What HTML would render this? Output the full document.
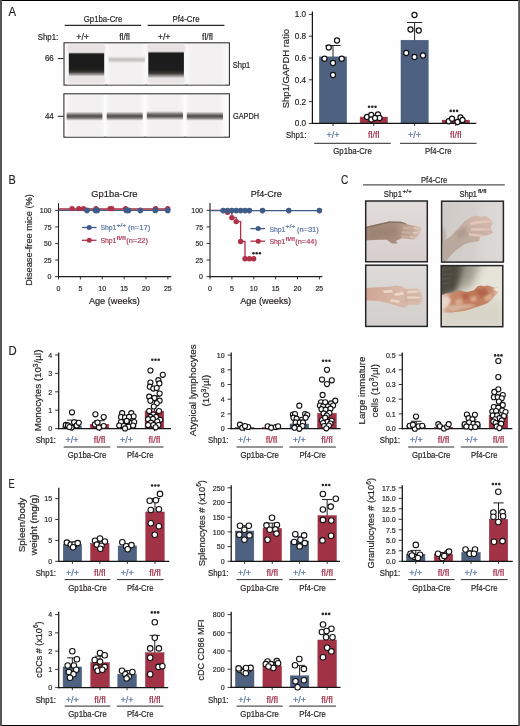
<!DOCTYPE html><html><head><meta charset="utf-8"><style>html,body{margin:0;padding:0;background:#fff;overflow:hidden;}svg{display:block;will-change:transform;}text{font-family:"Liberation Sans",sans-serif;stroke-width:0.18px;}</style></head><body>
<svg width="520" height="726" viewBox="0 0 520 726">
<rect x="0" y="0" width="520" height="726" fill="#fefefe"/>
<defs>
<linearGradient id="bandA" x1="0" y1="0" x2="0" y2="1">
 <stop offset="0" stop-color="#a8a4a4"/><stop offset="0.07" stop-color="#1c1c1c"/><stop offset="0.70" stop-color="#1c1c1c"/><stop offset="0.82" stop-color="#3a3834"/><stop offset="1" stop-color="#dcd8d6"/>
</linearGradient>
<linearGradient id="faint" x1="0" y1="0" x2="0" y2="1">
 <stop offset="0" stop-color="#eeecec"/><stop offset="0.45" stop-color="#c4c0c0"/><stop offset="0.6" stop-color="#c8c4c4"/><stop offset="1" stop-color="#eeecec"/>
</linearGradient>
<linearGradient id="gap" x1="0" y1="0" x2="0" y2="1">
 <stop offset="0" stop-color="#f2f0f0"/><stop offset="0.22" stop-color="#a09e9c"/><stop offset="0.42" stop-color="#5a5856"/><stop offset="0.6" stop-color="#5c5a58"/><stop offset="0.8" stop-color="#a4a2a0"/><stop offset="1" stop-color="#f2f0f0"/>
</linearGradient>
<linearGradient id="lane" x1="0" y1="0" x2="1" y2="0">
 <stop offset="0" stop-color="#f8f7f7"/><stop offset="0.12" stop-color="#f2f0f0"/><stop offset="0.88" stop-color="#f2f0f0"/><stop offset="1" stop-color="#f8f7f7"/>
</linearGradient>
<linearGradient id="photoBg1" x1="0" y1="0" x2="0" y2="1">
 <stop offset="0" stop-color="#e2dcdb"/><stop offset="1" stop-color="#d6cfcd"/>
</linearGradient>
<linearGradient id="photoBg2" x1="0" y1="0" x2="1" y2="0">
 <stop offset="0" stop-color="#cfcac6"/><stop offset="1" stop-color="#dad6d3"/>
</linearGradient>
<linearGradient id="photoBg3" x1="0" y1="0" x2="0" y2="1">
 <stop offset="0" stop-color="#dddad8"/><stop offset="1" stop-color="#d2cfcd"/>
</linearGradient>
<radialGradient id="photoBg4" cx="0.15" cy="0.1" r="0.8">
 <stop offset="0" stop-color="#5e5a50"/><stop offset="0.45" stop-color="#a8a496"/><stop offset="0.75" stop-color="#e2dfd4"/><stop offset="1" stop-color="#eeebe2"/>
</radialGradient>
</defs>
<text x="8.40" y="16.40" font-size="12.6" text-anchor="start" fill="#231f20" stroke="#231f20" textLength="7.56" lengthAdjust="spacingAndGlyphs" style="stroke-width:0.16px">A</text>
<text x="103.00" y="22.40" font-size="8.4" text-anchor="middle" fill="#231f20" stroke="#231f20" textLength="38.50" lengthAdjust="spacingAndGlyphs" >Gp1ba-Cre</text>
<text x="186.00" y="22.40" font-size="8.4" text-anchor="middle" fill="#231f20" stroke="#231f20" textLength="27.10" lengthAdjust="spacingAndGlyphs" >Pf4-Cre</text>
<line x1="64.70" y1="25.40" x2="141.10" y2="25.40" stroke="#2a2a2a" stroke-width="1.1" />
<line x1="147.70" y1="25.40" x2="224.40" y2="25.40" stroke="#2a2a2a" stroke-width="1.1" />
<text x="58.20" y="40.00" font-size="8.3" text-anchor="end" fill="#231f20" stroke="#231f20" textLength="20.50" lengthAdjust="spacingAndGlyphs" >Shp1:</text>
<text x="82.60" y="40.00" font-size="8.3" text-anchor="middle" fill="#231f20" stroke="#231f20" textLength="12.70" lengthAdjust="spacingAndGlyphs" >+/+</text>
<text x="124.60" y="40.00" font-size="8.3" text-anchor="middle" fill="#231f20" stroke="#231f20" textLength="10.80" lengthAdjust="spacingAndGlyphs" >fl/fl</text>
<text x="164.10" y="40.00" font-size="8.3" text-anchor="middle" fill="#231f20" stroke="#231f20" textLength="12.70" lengthAdjust="spacingAndGlyphs" >+/+</text>
<text x="207.50" y="40.00" font-size="8.3" text-anchor="middle" fill="#231f20" stroke="#231f20" textLength="10.80" lengthAdjust="spacingAndGlyphs" >fl/fl</text>
<filter id="bb" x="-10%" y="-30%" width="120%" height="160%"><feGaussianBlur stdDeviation="0.7"/></filter>
<filter id="bb2" x="-10%" y="-30%" width="120%" height="160%"><feGaussianBlur stdDeviation="1.1"/></filter>
<rect x="64" y="42.8" width="165.4" height="42.3" fill="#f9f8f8" stroke="#2a2a2a" stroke-width="1.05"/>
<rect x="67.4" y="44" width="37.6" height="40.4" fill="url(#lane)"/>
<rect x="107.3" y="44" width="37.6" height="40.4" fill="url(#lane)"/>
<rect x="147.3" y="44" width="37.6" height="40.4" fill="url(#lane)"/>
<rect x="187.6" y="44" width="37.6" height="40.4" fill="url(#lane)"/>
<rect x="67.6" y="44.5" width="37.5" height="8" fill="#e6e2e2" filter="url(#bb2)"/>
<rect x="147.4" y="44.5" width="37.5" height="8" fill="#e6e2e2" filter="url(#bb2)"/>
<rect x="67.6" y="76" width="37.5" height="7" fill="#e8e4e4" filter="url(#bb2)"/>
<rect x="147.4" y="77" width="37.5" height="6" fill="#e8e4e4" filter="url(#bb2)"/>
<rect x="68.8" y="52.6" width="35.4" height="23.6" fill="url(#bandA)" filter="url(#bb)"/>
<rect x="148.3" y="51.7" width="35.6" height="26.2" fill="url(#bandA)" filter="url(#bb)"/>
<rect x="108.6" y="56.4" width="36.2" height="6.6" fill="url(#faint)" filter="url(#bb)"/>
<text x="53.80" y="61.00" font-size="8.4" text-anchor="end" fill="#231f20" stroke="#231f20" textLength="8.90" lengthAdjust="spacingAndGlyphs" >66</text>
<line x1="57.80" y1="58.60" x2="63.50" y2="58.60" stroke="#231f20" stroke-width="1.0" />
<text x="232.70" y="67.70" font-size="8.4" text-anchor="start" fill="#231f20" stroke="#231f20" textLength="17.60" lengthAdjust="spacingAndGlyphs" >Shp1</text>
<rect x="63.9" y="93.8" width="165.5" height="43.4" fill="#fbfbfb" stroke="#2a2a2a" stroke-width="1.05"/>
<rect x="66.8" y="95" width="37" height="41.4" fill="url(#lane)"/>
<rect x="106.5" y="95" width="37" height="41.4" fill="url(#lane)"/>
<rect x="146.6" y="95" width="37" height="41.4" fill="url(#lane)"/>
<rect x="186.6" y="95" width="37" height="41.4" fill="url(#lane)"/>
<rect x="66.6" y="111.6" width="35.8" height="9.2" fill="url(#gap)" rx="1.5" filter="url(#bb)"/>
<rect x="106.7" y="111.6" width="36" height="9.2" fill="url(#gap)" rx="1.5" filter="url(#bb)"/>
<rect x="146.8" y="111.0" width="36.2" height="9.2" fill="url(#gap)" rx="1.5" filter="url(#bb)"/>
<rect x="186.8" y="111.6" width="36.2" height="9.2" fill="url(#gap)" rx="1.5" filter="url(#bb)"/>
<text x="53.80" y="119.00" font-size="8.4" text-anchor="end" fill="#231f20" stroke="#231f20" textLength="8.90" lengthAdjust="spacingAndGlyphs" >44</text>
<line x1="57.80" y1="116.30" x2="63.50" y2="116.30" stroke="#231f20" stroke-width="1.0" />
<text x="232.90" y="118.80" font-size="8.4" text-anchor="start" fill="#231f20" stroke="#231f20" textLength="26.30" lengthAdjust="spacingAndGlyphs" >GAPDH</text>
<line x1="312.40" y1="11.50" x2="312.40" y2="124.00" stroke="#141414" stroke-width="1.25" />
<line x1="308.80" y1="123.40" x2="312.40" y2="123.40" stroke="#231f20" stroke-width="0.9" />
<text x="306.10" y="126.31" font-size="8.2" text-anchor="end" fill="#231f20" stroke="#231f20" textLength="11.40" lengthAdjust="spacingAndGlyphs" >0.0</text>
<line x1="308.80" y1="101.60" x2="312.40" y2="101.60" stroke="#231f20" stroke-width="0.9" />
<text x="306.10" y="104.51" font-size="8.2" text-anchor="end" fill="#231f20" stroke="#231f20" textLength="11.40" lengthAdjust="spacingAndGlyphs" >0.2</text>
<line x1="308.80" y1="79.80" x2="312.40" y2="79.80" stroke="#231f20" stroke-width="0.9" />
<text x="306.10" y="82.71" font-size="8.2" text-anchor="end" fill="#231f20" stroke="#231f20" textLength="11.40" lengthAdjust="spacingAndGlyphs" >0.4</text>
<line x1="308.80" y1="58.00" x2="312.40" y2="58.00" stroke="#231f20" stroke-width="0.9" />
<text x="306.10" y="60.91" font-size="8.2" text-anchor="end" fill="#231f20" stroke="#231f20" textLength="11.40" lengthAdjust="spacingAndGlyphs" >0.6</text>
<line x1="308.80" y1="36.20" x2="312.40" y2="36.20" stroke="#231f20" stroke-width="0.9" />
<text x="306.10" y="39.11" font-size="8.2" text-anchor="end" fill="#231f20" stroke="#231f20" textLength="11.40" lengthAdjust="spacingAndGlyphs" >0.8</text>
<line x1="308.80" y1="14.40" x2="312.40" y2="14.40" stroke="#231f20" stroke-width="0.9" />
<text x="306.10" y="17.31" font-size="8.2" text-anchor="end" fill="#231f20" stroke="#231f20" textLength="11.40" lengthAdjust="spacingAndGlyphs" >1.0</text>
<rect x="319.40" y="56.91" width="27.2" height="66.49" fill="#4e6180" stroke="#3d5274" stroke-width="0.5"/>
<rect x="360.15" y="117.08" width="27.2" height="6.32" fill="#a23346" stroke="#952236" stroke-width="0.5"/>
<rect x="401.00" y="40.23" width="27.2" height="83.17" fill="#4e6180" stroke="#3d5274" stroke-width="0.5"/>
<rect x="442.15" y="120.13" width="27.2" height="3.27" fill="#a23346" stroke="#952236" stroke-width="0.5"/>
<line x1="333.00" y1="56.91" x2="333.00" y2="45.47" stroke="#231f20" stroke-width="1.0" />
<line x1="325.38" y1="45.47" x2="340.62" y2="45.47" stroke="#231f20" stroke-width="1.0" />
<line x1="414.60" y1="40.23" x2="414.60" y2="22.47" stroke="#231f20" stroke-width="1.0" />
<line x1="406.98" y1="22.47" x2="422.22" y2="22.47" stroke="#231f20" stroke-width="1.0" />
<line x1="311.80" y1="123.40" x2="476.30" y2="123.40" stroke="#141414" stroke-width="1.2" />
<line x1="333.00" y1="123.40" x2="333.00" y2="126.00" stroke="#231f20" stroke-width="0.9" />
<line x1="373.75" y1="123.40" x2="373.75" y2="126.00" stroke="#231f20" stroke-width="0.9" />
<line x1="414.60" y1="123.40" x2="414.60" y2="126.00" stroke="#231f20" stroke-width="0.9" />
<line x1="455.75" y1="123.40" x2="455.75" y2="126.00" stroke="#231f20" stroke-width="0.9" />
<circle cx="337.00" cy="40.50" r="2.55" fill="#fff" stroke="#111" stroke-width="1.2"/>
<circle cx="328.75" cy="47.50" r="2.55" fill="#fff" stroke="#111" stroke-width="1.2"/>
<circle cx="324.50" cy="58.75" r="2.55" fill="#fff" stroke="#111" stroke-width="1.2"/>
<circle cx="333.00" cy="63.00" r="2.55" fill="#fff" stroke="#111" stroke-width="1.2"/>
<circle cx="341.75" cy="58.75" r="2.55" fill="#fff" stroke="#111" stroke-width="1.2"/>
<circle cx="333.00" cy="75.00" r="2.55" fill="#fff" stroke="#111" stroke-width="1.2"/>
<circle cx="367.00" cy="117.00" r="2.55" fill="#fff" stroke="#111" stroke-width="1.2"/>
<circle cx="371.25" cy="115.00" r="2.55" fill="#fff" stroke="#111" stroke-width="1.2"/>
<circle cx="378.00" cy="114.50" r="2.55" fill="#fff" stroke="#111" stroke-width="1.2"/>
<circle cx="379.50" cy="118.00" r="2.55" fill="#fff" stroke="#111" stroke-width="1.2"/>
<circle cx="371.25" cy="119.50" r="2.55" fill="#fff" stroke="#111" stroke-width="1.2"/>
<circle cx="375.00" cy="118.00" r="2.55" fill="#fff" stroke="#111" stroke-width="1.2"/>
<circle cx="414.50" cy="15.00" r="2.55" fill="#fff" stroke="#111" stroke-width="1.2"/>
<circle cx="410.50" cy="29.50" r="2.55" fill="#fff" stroke="#111" stroke-width="1.2"/>
<circle cx="418.75" cy="30.50" r="2.55" fill="#fff" stroke="#111" stroke-width="1.2"/>
<circle cx="406.25" cy="53.00" r="2.55" fill="#fff" stroke="#111" stroke-width="1.2"/>
<circle cx="414.50" cy="57.00" r="2.55" fill="#fff" stroke="#111" stroke-width="1.2"/>
<circle cx="423.00" cy="55.50" r="2.55" fill="#fff" stroke="#111" stroke-width="1.2"/>
<circle cx="448.75" cy="121.25" r="2.55" fill="#fff" stroke="#111" stroke-width="1.2"/>
<circle cx="452.00" cy="118.75" r="2.55" fill="#fff" stroke="#111" stroke-width="1.2"/>
<circle cx="457.50" cy="122.00" r="2.55" fill="#fff" stroke="#111" stroke-width="1.2"/>
<circle cx="460.50" cy="117.50" r="2.55" fill="#fff" stroke="#111" stroke-width="1.2"/>
<circle cx="462.50" cy="120.00" r="2.55" fill="#fff" stroke="#111" stroke-width="1.2"/>
<text transform="translate(288.60,68.60) rotate(-90)" x="0" y="0" font-size="9.2" text-anchor="middle" fill="#231f20" stroke="#231f20" textLength="79.20" lengthAdjust="spacingAndGlyphs">Shp1/GAPDH ratio</text>
<text x="306.30" y="137.90" font-size="8.2" text-anchor="end" fill="#231f20" stroke="#231f20" textLength="20.30" lengthAdjust="spacingAndGlyphs" >Shp1:</text>
<text x="333.00" y="137.90" font-size="8.2" text-anchor="middle" fill="#5572a0" stroke="#5572a0" textLength="13.00" lengthAdjust="spacingAndGlyphs" >+/+</text>
<text x="373.75" y="137.90" font-size="8.2" text-anchor="middle" fill="#a43048" stroke="#a43048" textLength="11.60" lengthAdjust="spacingAndGlyphs" >fl/fl</text>
<text x="414.60" y="137.90" font-size="8.2" text-anchor="middle" fill="#5572a0" stroke="#5572a0" textLength="13.00" lengthAdjust="spacingAndGlyphs" >+/+</text>
<text x="455.75" y="137.90" font-size="8.2" text-anchor="middle" fill="#a43048" stroke="#a43048" textLength="11.60" lengthAdjust="spacingAndGlyphs" >fl/fl</text>
<line x1="314.20" y1="143.30" x2="390.80" y2="143.30" stroke="#2a2a2a" stroke-width="1.0" />
<line x1="400.00" y1="143.30" x2="476.50" y2="143.30" stroke="#2a2a2a" stroke-width="1.0" />
<text x="352.50" y="154.10" font-size="8.2" text-anchor="middle" fill="#231f20" stroke="#231f20" textLength="38.50" lengthAdjust="spacingAndGlyphs" >Gp1ba-Cre</text>
<text x="438.25" y="154.10" font-size="8.2" text-anchor="middle" fill="#231f20" stroke="#231f20" textLength="26.50" lengthAdjust="spacingAndGlyphs" >Pf4-Cre</text>
<circle cx="369.10" cy="106.80" r="1.3" fill="#2a2a2a"/>
<circle cx="372.30" cy="106.80" r="1.3" fill="#2a2a2a"/>
<circle cx="375.50" cy="106.80" r="1.3" fill="#2a2a2a"/>
<circle cx="450.70" cy="110.90" r="1.3" fill="#2a2a2a"/>
<circle cx="453.90" cy="110.90" r="1.3" fill="#2a2a2a"/>
<circle cx="457.10" cy="110.90" r="1.3" fill="#2a2a2a"/>
<text x="8.60" y="183.80" font-size="12.6" text-anchor="start" fill="#231f20" stroke="#231f20" textLength="7.23" lengthAdjust="spacingAndGlyphs" style="stroke-width:0.16px">B</text>
<text transform="translate(32.00,240.00) rotate(-90)" x="0" y="0" font-size="9.2" text-anchor="middle" fill="#231f20" stroke="#231f20" textLength="91.70" lengthAdjust="spacingAndGlyphs">Disease-free mice (%)</text>
<line x1="58.50" y1="203.10" x2="58.50" y2="277.15" stroke="#231f20" stroke-width="1.1" />
<line x1="55.10" y1="276.60" x2="58.50" y2="276.60" stroke="#231f20" stroke-width="0.9" />
<text x="51.50" y="279.40" font-size="7.4" text-anchor="end" fill="#231f20" stroke="#231f20" textLength="3.90" lengthAdjust="spacingAndGlyphs" >0</text>
<line x1="55.10" y1="260.04" x2="58.50" y2="260.04" stroke="#231f20" stroke-width="0.9" />
<text x="51.50" y="262.84" font-size="7.4" text-anchor="end" fill="#231f20" stroke="#231f20" textLength="7.60" lengthAdjust="spacingAndGlyphs" >25</text>
<line x1="55.10" y1="243.48" x2="58.50" y2="243.48" stroke="#231f20" stroke-width="0.9" />
<text x="51.50" y="246.28" font-size="7.4" text-anchor="end" fill="#231f20" stroke="#231f20" textLength="7.60" lengthAdjust="spacingAndGlyphs" >50</text>
<line x1="55.10" y1="226.92" x2="58.50" y2="226.92" stroke="#231f20" stroke-width="0.9" />
<text x="51.50" y="229.72" font-size="7.4" text-anchor="end" fill="#231f20" stroke="#231f20" textLength="7.60" lengthAdjust="spacingAndGlyphs" >75</text>
<line x1="55.10" y1="210.36" x2="58.50" y2="210.36" stroke="#231f20" stroke-width="0.9" />
<text x="51.50" y="213.16" font-size="7.4" text-anchor="end" fill="#231f20" stroke="#231f20" textLength="11.70" lengthAdjust="spacingAndGlyphs" >100</text>
<line x1="57.95" y1="276.60" x2="171.30" y2="276.60" stroke="#231f20" stroke-width="1.1" />
<line x1="58.50" y1="276.60" x2="58.50" y2="279.40" stroke="#231f20" stroke-width="0.9" />
<text x="58.50" y="290.60" font-size="7.4" text-anchor="middle" fill="#231f20" stroke="#231f20" textLength="3.90" lengthAdjust="spacingAndGlyphs" >0</text>
<line x1="80.38" y1="276.60" x2="80.38" y2="279.40" stroke="#231f20" stroke-width="0.9" />
<text x="80.38" y="290.60" font-size="7.4" text-anchor="middle" fill="#231f20" stroke="#231f20" textLength="3.90" lengthAdjust="spacingAndGlyphs" >5</text>
<line x1="102.25" y1="276.60" x2="102.25" y2="279.40" stroke="#231f20" stroke-width="0.9" />
<text x="102.25" y="290.60" font-size="7.4" text-anchor="middle" fill="#231f20" stroke="#231f20" textLength="7.80" lengthAdjust="spacingAndGlyphs" >10</text>
<line x1="124.12" y1="276.60" x2="124.12" y2="279.40" stroke="#231f20" stroke-width="0.9" />
<text x="124.12" y="290.60" font-size="7.4" text-anchor="middle" fill="#231f20" stroke="#231f20" textLength="7.80" lengthAdjust="spacingAndGlyphs" >15</text>
<line x1="146.00" y1="276.60" x2="146.00" y2="279.40" stroke="#231f20" stroke-width="0.9" />
<text x="146.00" y="290.60" font-size="7.4" text-anchor="middle" fill="#231f20" stroke="#231f20" textLength="7.80" lengthAdjust="spacingAndGlyphs" >20</text>
<line x1="167.88" y1="276.60" x2="167.88" y2="279.40" stroke="#231f20" stroke-width="0.9" />
<text x="167.88" y="290.60" font-size="7.4" text-anchor="middle" fill="#231f20" stroke="#231f20" textLength="7.80" lengthAdjust="spacingAndGlyphs" >25</text>
<text x="114.40" y="196.90" font-size="9.2" text-anchor="middle" fill="#231f20" stroke="#231f20" textLength="46.20" lengthAdjust="spacingAndGlyphs" >Gp1ba-Cre</text>
<text x="114.40" y="304.40" font-size="9.2" text-anchor="middle" fill="#231f20" stroke="#231f20" textLength="51.00" lengthAdjust="spacingAndGlyphs" >Age (weeks)</text>
<line x1="58.50" y1="210.40" x2="167.88" y2="210.40" stroke="#3f5b87" stroke-width="1.3" />
<line x1="58.50" y1="208.90" x2="167.88" y2="208.90" stroke="#a82a42" stroke-width="1.5" />
<circle cx="72.10" cy="208.60" r="2.65" fill="#ae3148" stroke="none" stroke-width="0"/>
<circle cx="78.75" cy="208.60" r="2.65" fill="#ae3148" stroke="none" stroke-width="0"/>
<circle cx="83.50" cy="208.60" r="2.65" fill="#ae3148" stroke="none" stroke-width="0"/>
<circle cx="96.00" cy="208.60" r="2.65" fill="#ae3148" stroke="none" stroke-width="0"/>
<circle cx="110.00" cy="208.60" r="2.65" fill="#ae3148" stroke="none" stroke-width="0"/>
<circle cx="111.80" cy="208.60" r="2.65" fill="#ae3148" stroke="none" stroke-width="0"/>
<circle cx="125.60" cy="208.60" r="2.65" fill="#ae3148" stroke="none" stroke-width="0"/>
<circle cx="155.60" cy="208.60" r="2.65" fill="#ae3148" stroke="none" stroke-width="0"/>
<circle cx="167.75" cy="208.60" r="2.65" fill="#ae3148" stroke="none" stroke-width="0"/>
<circle cx="87.00" cy="210.40" r="2.8" fill="#3f5b87" stroke="none" stroke-width="0"/>
<circle cx="95.40" cy="210.40" r="2.8" fill="#3f5b87" stroke="none" stroke-width="0"/>
<circle cx="97.20" cy="210.40" r="2.8" fill="#3f5b87" stroke="none" stroke-width="0"/>
<circle cx="126.30" cy="210.40" r="2.8" fill="#3f5b87" stroke="none" stroke-width="0"/>
<circle cx="128.50" cy="210.40" r="2.8" fill="#3f5b87" stroke="none" stroke-width="0"/>
<circle cx="140.40" cy="210.40" r="2.8" fill="#3f5b87" stroke="none" stroke-width="0"/>
<circle cx="155.30" cy="210.40" r="2.8" fill="#3f5b87" stroke="none" stroke-width="0"/>
<circle cx="167.75" cy="210.40" r="2.8" fill="#3f5b87" stroke="none" stroke-width="0"/>
<line x1="81.90" y1="227.50" x2="96.50" y2="227.50" stroke="#3f5b87" stroke-width="1.3" />
<circle cx="89.20" cy="227.50" r="2.5" fill="#3f5b87" stroke="none" stroke-width="0"/>
<line x1="81.90" y1="240.30" x2="96.50" y2="240.30" stroke="#ae3148" stroke-width="1.3" />
<circle cx="89.20" cy="240.30" r="2.5" fill="#ae3148" stroke="none" stroke-width="0"/>
<text x="100.40" y="230.40" font-size="7.9" text-anchor="start" fill="#5570a0" stroke="#5570a0" textLength="16.00" lengthAdjust="spacingAndGlyphs" >Shp1</text>
<text x="116.40" y="227.30" font-size="5.0" text-anchor="start" fill="#5570a0" stroke="#5570a0" textLength="10.00" lengthAdjust="spacingAndGlyphs" style="stroke-width:0.16px">+/+</text>
<text x="128.00" y="230.40" font-size="7.9" text-anchor="start" fill="#5570a0" stroke="#5570a0" textLength="22.40" lengthAdjust="spacingAndGlyphs" >(n=17)</text>
<text x="100.40" y="242.80" font-size="7.9" text-anchor="start" fill="#ac3850" stroke="#ac3850" textLength="16.00" lengthAdjust="spacingAndGlyphs" >Shp1</text>
<text x="116.40" y="239.70" font-size="5.0" text-anchor="start" fill="#ac3850" stroke="#ac3850" textLength="9.40" lengthAdjust="spacingAndGlyphs" style="stroke-width:0.16px">fl/fl</text>
<text x="126.20" y="242.80" font-size="7.9" text-anchor="start" fill="#ac3850" stroke="#ac3850" textLength="21.80" lengthAdjust="spacingAndGlyphs" >(n=22)</text>
<line x1="210.00" y1="203.10" x2="210.00" y2="277.15" stroke="#231f20" stroke-width="1.1" />
<line x1="206.60" y1="276.60" x2="210.00" y2="276.60" stroke="#231f20" stroke-width="0.9" />
<text x="203.00" y="279.40" font-size="7.4" text-anchor="end" fill="#231f20" stroke="#231f20" textLength="3.90" lengthAdjust="spacingAndGlyphs" >0</text>
<line x1="206.60" y1="260.04" x2="210.00" y2="260.04" stroke="#231f20" stroke-width="0.9" />
<text x="203.00" y="262.84" font-size="7.4" text-anchor="end" fill="#231f20" stroke="#231f20" textLength="7.60" lengthAdjust="spacingAndGlyphs" >25</text>
<line x1="206.60" y1="243.48" x2="210.00" y2="243.48" stroke="#231f20" stroke-width="0.9" />
<text x="203.00" y="246.28" font-size="7.4" text-anchor="end" fill="#231f20" stroke="#231f20" textLength="7.60" lengthAdjust="spacingAndGlyphs" >50</text>
<line x1="206.60" y1="226.92" x2="210.00" y2="226.92" stroke="#231f20" stroke-width="0.9" />
<text x="203.00" y="229.72" font-size="7.4" text-anchor="end" fill="#231f20" stroke="#231f20" textLength="7.60" lengthAdjust="spacingAndGlyphs" >75</text>
<line x1="206.60" y1="210.36" x2="210.00" y2="210.36" stroke="#231f20" stroke-width="0.9" />
<text x="203.00" y="213.16" font-size="7.4" text-anchor="end" fill="#231f20" stroke="#231f20" textLength="11.70" lengthAdjust="spacingAndGlyphs" >100</text>
<line x1="209.45" y1="276.60" x2="322.30" y2="276.60" stroke="#231f20" stroke-width="1.1" />
<line x1="210.00" y1="276.60" x2="210.00" y2="279.40" stroke="#231f20" stroke-width="0.9" />
<text x="210.00" y="290.60" font-size="7.4" text-anchor="middle" fill="#231f20" stroke="#231f20" textLength="3.90" lengthAdjust="spacingAndGlyphs" >0</text>
<line x1="231.88" y1="276.60" x2="231.88" y2="279.40" stroke="#231f20" stroke-width="0.9" />
<text x="231.88" y="290.60" font-size="7.4" text-anchor="middle" fill="#231f20" stroke="#231f20" textLength="3.90" lengthAdjust="spacingAndGlyphs" >5</text>
<line x1="253.75" y1="276.60" x2="253.75" y2="279.40" stroke="#231f20" stroke-width="0.9" />
<text x="253.75" y="290.60" font-size="7.4" text-anchor="middle" fill="#231f20" stroke="#231f20" textLength="7.80" lengthAdjust="spacingAndGlyphs" >10</text>
<line x1="275.62" y1="276.60" x2="275.62" y2="279.40" stroke="#231f20" stroke-width="0.9" />
<text x="275.62" y="290.60" font-size="7.4" text-anchor="middle" fill="#231f20" stroke="#231f20" textLength="7.80" lengthAdjust="spacingAndGlyphs" >15</text>
<line x1="297.50" y1="276.60" x2="297.50" y2="279.40" stroke="#231f20" stroke-width="0.9" />
<text x="297.50" y="290.60" font-size="7.4" text-anchor="middle" fill="#231f20" stroke="#231f20" textLength="7.80" lengthAdjust="spacingAndGlyphs" >20</text>
<line x1="319.38" y1="276.60" x2="319.38" y2="279.40" stroke="#231f20" stroke-width="0.9" />
<text x="319.38" y="290.60" font-size="7.4" text-anchor="middle" fill="#231f20" stroke="#231f20" textLength="7.80" lengthAdjust="spacingAndGlyphs" >25</text>
<text x="266.30" y="196.90" font-size="9.2" text-anchor="middle" fill="#231f20" stroke="#231f20" textLength="31.20" lengthAdjust="spacingAndGlyphs" >Pf4-Cre</text>
<text x="265.65" y="304.40" font-size="9.2" text-anchor="middle" fill="#231f20" stroke="#231f20" textLength="51.00" lengthAdjust="spacingAndGlyphs" >Age (weeks)</text>
<path d="M210.00,210.36 L227.50,210.36 L227.50,212.35 L231.88,212.35 L231.88,217.65 L236.25,217.65 L236.25,221.62 L240.62,221.62 L240.62,241.49 L245.00,241.49 L245.00,258.72 L253.75,258.72" fill="none" stroke="#ae3148" stroke-width="1.3"/>
<circle cx="227.50" cy="212.35" r="2.7" fill="#ae3148" stroke="none" stroke-width="0"/>
<circle cx="231.88" cy="217.65" r="2.7" fill="#ae3148" stroke="none" stroke-width="0"/>
<circle cx="236.25" cy="221.62" r="2.7" fill="#ae3148" stroke="none" stroke-width="0"/>
<circle cx="240.62" cy="241.49" r="2.7" fill="#ae3148" stroke="none" stroke-width="0"/>
<circle cx="245.00" cy="258.72" r="2.7" fill="#ae3148" stroke="none" stroke-width="0"/>
<circle cx="249.38" cy="258.72" r="2.7" fill="#ae3148" stroke="none" stroke-width="0"/>
<circle cx="253.75" cy="258.72" r="2.7" fill="#ae3148" stroke="none" stroke-width="0"/>
<line x1="210.00" y1="210.60" x2="319.38" y2="210.60" stroke="#3f5b87" stroke-width="1.3" />
<circle cx="223.12" cy="210.60" r="2.8" fill="#3f5b87" stroke="none" stroke-width="0"/>
<circle cx="227.50" cy="210.60" r="2.8" fill="#3f5b87" stroke="none" stroke-width="0"/>
<circle cx="231.88" cy="210.60" r="2.8" fill="#3f5b87" stroke="none" stroke-width="0"/>
<circle cx="236.25" cy="210.60" r="2.8" fill="#3f5b87" stroke="none" stroke-width="0"/>
<circle cx="240.62" cy="210.60" r="2.8" fill="#3f5b87" stroke="none" stroke-width="0"/>
<circle cx="245.00" cy="210.60" r="2.8" fill="#3f5b87" stroke="none" stroke-width="0"/>
<circle cx="249.38" cy="210.60" r="2.8" fill="#3f5b87" stroke="none" stroke-width="0"/>
<circle cx="262.50" cy="210.60" r="2.8" fill="#3f5b87" stroke="none" stroke-width="0"/>
<circle cx="288.75" cy="210.60" r="2.8" fill="#3f5b87" stroke="none" stroke-width="0"/>
<circle cx="319.38" cy="210.60" r="2.8" fill="#3f5b87" stroke="none" stroke-width="0"/>
<line x1="250.40" y1="228.60" x2="265.10" y2="228.60" stroke="#3f5b87" stroke-width="1.3" />
<circle cx="258.20" cy="228.60" r="2.5" fill="#3f5b87" stroke="none" stroke-width="0"/>
<line x1="250.40" y1="241.20" x2="265.10" y2="241.20" stroke="#ae3148" stroke-width="1.3" />
<circle cx="258.20" cy="241.20" r="2.5" fill="#ae3148" stroke="none" stroke-width="0"/>
<text x="269.40" y="231.50" font-size="7.9" text-anchor="start" fill="#5570a0" stroke="#5570a0" textLength="16.00" lengthAdjust="spacingAndGlyphs" >Shp1</text>
<text x="285.40" y="228.40" font-size="5.0" text-anchor="start" fill="#5570a0" stroke="#5570a0" textLength="10.00" lengthAdjust="spacingAndGlyphs" style="stroke-width:0.16px">+/+</text>
<text x="297.00" y="231.50" font-size="7.9" text-anchor="start" fill="#5570a0" stroke="#5570a0" textLength="21.70" lengthAdjust="spacingAndGlyphs" >(n=31)</text>
<text x="269.40" y="243.70" font-size="7.9" text-anchor="start" fill="#ac3850" stroke="#ac3850" textLength="16.00" lengthAdjust="spacingAndGlyphs" >Shp1</text>
<text x="285.40" y="240.60" font-size="5.0" text-anchor="start" fill="#ac3850" stroke="#ac3850" textLength="9.40" lengthAdjust="spacingAndGlyphs" style="stroke-width:0.16px">fl/fl</text>
<text x="295.20" y="243.70" font-size="7.9" text-anchor="start" fill="#ac3850" stroke="#ac3850" textLength="21.80" lengthAdjust="spacingAndGlyphs" >(n=44)</text>
<circle cx="253.50" cy="253.20" r="1.3" fill="#2a2a2a"/>
<circle cx="256.70" cy="253.20" r="1.3" fill="#2a2a2a"/>
<circle cx="259.90" cy="253.20" r="1.3" fill="#2a2a2a"/>
<text x="341.00" y="183.80" font-size="12.6" text-anchor="start" fill="#231f20" stroke="#231f20" textLength="7.28" lengthAdjust="spacingAndGlyphs" style="stroke-width:0.16px">C</text>
<text x="434.10" y="182.60" font-size="8.2" text-anchor="middle" fill="#231f20" stroke="#231f20" textLength="26.40" lengthAdjust="spacingAndGlyphs" >Pf4-Cre</text>
<line x1="363.10" y1="184.90" x2="504.80" y2="184.90" stroke="#555" stroke-width="1.1" />
<text x="383.80" y="196.80" font-size="8.2" text-anchor="start" fill="#231f20" stroke="#231f20" textLength="18.20" lengthAdjust="spacingAndGlyphs" >Shp1</text>
<text x="402.40" y="193.00" font-size="5.4" text-anchor="start" fill="#231f20" stroke="#231f20" textLength="9.60" lengthAdjust="spacingAndGlyphs" >+/+</text>
<text x="459.40" y="196.80" font-size="8.2" text-anchor="start" fill="#231f20" stroke="#231f20" textLength="17.70" lengthAdjust="spacingAndGlyphs" >Shp1</text>
<text x="478.00" y="193.00" font-size="5.4" text-anchor="start" fill="#231f20" stroke="#231f20" textLength="8.60" lengthAdjust="spacingAndGlyphs" >fl/fl</text>
 <defs>
 <filter id="bl1" x="-20%" y="-20%" width="140%" height="140%"><feGaussianBlur stdDeviation="0.8"/></filter>
 <filter id="bl05" x="-20%" y="-20%" width="140%" height="140%"><feGaussianBlur stdDeviation="0.5"/></filter>
 <filter id="bl07" x="-20%" y="-20%" width="140%" height="140%"><feGaussianBlur stdDeviation="0.7"/></filter>
 <filter id="bl3" x="-50%" y="-50%" width="200%" height="200%"><feGaussianBlur stdDeviation="3"/></filter>
 <filter id="bl2" x="-20%" y="-20%" width="140%" height="140%"><feGaussianBlur stdDeviation="1.6"/></filter>
 <filter id="bl4" x="-50%" y="-50%" width="200%" height="200%"><feGaussianBlur stdDeviation="4"/></filter>
 <clipPath id="cTL"><rect x="365.8" y="201" width="61.6" height="60.8"/></clipPath>
 <clipPath id="cTR"><rect x="441.6" y="201.2" width="61.8" height="60.9"/></clipPath>
 <clipPath id="cBL"><rect x="365.8" y="265.2" width="61.6" height="61.2"/></clipPath>
 <clipPath id="cBR"><rect x="441.2" y="265.6" width="61.6" height="61.1"/></clipPath>
 <linearGradient id="armTL" x1="0" y1="0" x2="1" y2="0"><stop offset="0" stop-color="#a08676"/><stop offset="0.55" stop-color="#a88c7c"/><stop offset="0.8" stop-color="#c0a494"/><stop offset="1" stop-color="#dcc6b8"/></linearGradient>
 <linearGradient id="armTR" x1="0" y1="1" x2="1" y2="0"><stop offset="0" stop-color="#b4a89e"/><stop offset="0.45" stop-color="#bca89c"/><stop offset="1" stop-color="#dcbcb0"/></linearGradient>
 <linearGradient id="armBL" x1="0" y1="0" x2="1" y2="0"><stop offset="0" stop-color="#d0a494"/><stop offset="0.5" stop-color="#d6b4a4"/><stop offset="1" stop-color="#dcc2b0"/></linearGradient>
 <linearGradient id="armBR" x1="0" y1="0" x2="1" y2="0"><stop offset="0" stop-color="#e4d0c4"/><stop offset="0.18" stop-color="#c88a6c"/><stop offset="0.55" stop-color="#bf7656"/><stop offset="0.85" stop-color="#c98c70"/><stop offset="1" stop-color="#ece2d4"/></linearGradient>
 <linearGradient id="bgBR" x1="0" y1="0" x2="1" y2="0.25"><stop offset="0" stop-color="#6e6a5e"/><stop offset="0.3" stop-color="#8e8a7c"/><stop offset="0.5" stop-color="#cfcbbf"/><stop offset="0.7" stop-color="#e6e3d8"/><stop offset="1" stop-color="#ebe8de"/></linearGradient>
 </defs>
<g clip-path="url(#cTL)"><rect x="365" y="200" width="64" height="63" fill="url(#photoBg1)"/>
<path filter="url(#bl05)" fill="url(#armTL)" d="M365,227 L376.7,224.6 L389.4,221.6 L400.8,221.8 L408.4,224.4 L417.3,226.3 L421.7,227.8 L421.1,230.7 L419.8,233.3 L417.3,237.1 L413.5,239.6 L402,238.3 L395.7,240.9 L397.6,243.4 L391.9,243.6 L386.8,239.8 L379.2,239.8 L365,240.4 Z"/>
<path filter="url(#bl07)" fill="none" stroke="#86705f" stroke-width="1.3" d="M366,227.4 L376.7,225 L389.4,222.2 L400.8,222.4 L406,224"/>
<path filter="url(#bl07)" fill="#c8ac9c" d="M403,226.5 Q414,226 422,228.2 Q414,229.8 403,229.5 Z M402,231 Q412,231 421,232.8 Q412,234 402,233.6 Z M401,235 Q409,235.5 417,237.6 Q408,238.4 401,237.4 Z"/>
<path filter="url(#bl07)" fill="#e2d0c4" d="M414,227.2 L423,228.3 L414,229 Z M413,231.8 L422,232.9 L413,233.4 Z M410,236.2 L418,237.6 L410,237.8 Z"/>
<path filter="url(#bl1)" fill="#8e786a" opacity="0.3" d="M370,230 L395,228 L397,236 L370,237 Z"/>
</g>
<g clip-path="url(#cTR)"><rect x="441" y="200" width="64" height="63" fill="url(#photoBg2)"/>
<rect x="480" y="200" width="25" height="63" fill="#dedad8" opacity="0.6" filter="url(#bl4)"/>
<path filter="url(#bl2)" fill="#b8ada2" d="M441,226 L445,230 L446,242 L441,246 Z"/>
<path filter="url(#bl05)" fill="url(#armTR)" d="M442.9,262.5 L442.9,241.5 L450.6,236.4 L458.3,228.6 L464.8,220.9 L471.2,217 L476,215.5 L481.5,217 L485,216 L488,217.2 L493.1,222.8 L490.5,227.4 L493.1,233.1 L488,235.1 L480.2,236.4 L479,240.9 L471.2,242.2 L464.8,244.1 L455.8,250.5 L449.3,257 L445.4,262.5 Z"/>
<path filter="url(#bl07)" fill="#e2c6ba" d="M470,222.5 Q482,219 493,221.5 Q482,223.5 470,225 Z M471,228 Q483,227.5 494,229.5 Q483,231 471,230.6 Z M469,233 Q479,234 488,236 Q478,237 469,235.5 Z"/>
<path filter="url(#bl1)" fill="#8c8076" opacity="0.3" d="M456,232 L466,226 L467,236 L458,239 Z"/>
</g>
<g clip-path="url(#cBL)"><rect x="365" y="264" width="64" height="64" fill="url(#photoBg3)"/>
<path filter="url(#bl05)" fill="url(#armBL)" d="M365,287.9 L378,287.3 L389.4,286.7 L397,285.6 L402.1,286.5 L405.9,289 L417.3,288.4 L420.5,290.9 L422.4,296 L422.4,301.1 L418.6,304.9 L408.4,304.9 L404.6,307.4 L399.5,306.8 L389.4,303.6 L379.2,301.1 L365,300.2 Z"/>
<path filter="url(#bl07)" fill="#ecd6c8" d="M383,290.5 L392,289.8 L393,292.5 L384,293 Z M394,293.5 L403,291.8 L404,294.6 L395,296 Z M407,291 Q415,290.2 421,291.8 Q415,293.4 407,293.2 Z M407,296.5 Q415,296 422,297.4 Q415,299 407,298.8 Z M391,299 L400,300.5 L399,303 L390,301.5 Z"/>
<path filter="url(#bl1)" fill="none" stroke="#b88a7a" stroke-width="0.8" opacity="0.7" d="M406,290 L406,304 M408,294.6 L421,294.8 M408,300 L420,300.6"/>
</g>
<g clip-path="url(#cBR)"><rect x="440" y="264" width="64" height="64" fill="#e6e3d8"/>
<rect x="440" y="300" width="64" height="28" fill="#d8d4c8" filter="url(#bl4)"/>
<path filter="url(#bl3)" fill="#4d4a41" d="M436,260 L468,260 L464,276 L457,292 L436,300 Z"/>
<path filter="url(#bl4)" fill="#8e8a7a" opacity="0.8" d="M462,260 L482,260 L472,284 L460,294 Z"/>
<path filter="url(#bl07)" fill="none" stroke="#7e7a66" stroke-width="0.5" opacity="0.6" d="M442,270 L452,269 M442,274.5 L453,274 M442,279 L451,278.5 M442,283.5 L450,283"/>
<path filter="url(#bl05)" fill="url(#armBR)" d="M441,295.4 L446,293.5 L452,292.8 L459.6,290.2 L464,291.5 L467.4,292 L473.8,290.2 L477.7,286.3 L481,285.6 L484.1,286.3 L487,285.4 L490.5,286.2 L494.4,287.8 L500.9,287 L498.3,292.6 L493.1,297.8 L488,303 L477.7,306.8 L464.8,310.7 L451.9,312.6 L441,312.8 Z"/>
<path filter="url(#bl1)" fill="#eadad0" opacity="0.9" d="M441,298 L447,296 L451,300 L448,306 L441,309 Z"/>
<path filter="url(#bl1)" fill="#a65640" opacity="0.6" d="M476,290 L486,288 L489,295 L480,298 Z M462,294 L468,293 L469,299 L463,300 Z"/>
<path filter="url(#bl1)" fill="#e2b698" opacity="0.75" d="M455,300 L462,298 L463,304 L456,306 Z M470,297 L476,296 L477,301 L471,302 Z M484,297 L492,293 L493,299 L486,301 Z"/>
<path filter="url(#bl1)" fill="#dcc4b0" opacity="0.7" d="M446,306 L470,304 L478,306 L452,312 Z"/>
<path filter="url(#bl05)" fill="#ece4d8" d="M493,289 L502,286 L498,292 Z"/>
</g>
<rect x="365.7" y="201.0" width="61.6" height="60.8" fill="none" stroke="#262626" stroke-width="1.5"/>
<rect x="441.6" y="201.2" width="61.8" height="60.9" fill="none" stroke="#262626" stroke-width="1.5"/>
<rect x="365.7" y="265.2" width="61.6" height="61.2" fill="none" stroke="#262626" stroke-width="1.5"/>
<rect x="441.2" y="265.6" width="61.6" height="61.1" fill="none" stroke="#262626" stroke-width="1.5"/>
<text x="8.60" y="355.00" font-size="12.6" text-anchor="start" fill="#231f20" stroke="#231f20" textLength="8.19" lengthAdjust="spacingAndGlyphs" style="stroke-width:0.16px">D</text>
<line x1="58.70" y1="352.50" x2="58.70" y2="429.20" stroke="#141414" stroke-width="1.25" />
<line x1="55.10" y1="428.60" x2="58.70" y2="428.60" stroke="#231f20" stroke-width="0.9" />
<text x="52.10" y="431.30" font-size="7.6" text-anchor="end" fill="#231f20" stroke="#231f20" textLength="3.93" lengthAdjust="spacingAndGlyphs" >0</text>
<line x1="55.10" y1="410.20" x2="58.70" y2="410.20" stroke="#231f20" stroke-width="0.9" />
<text x="52.10" y="412.90" font-size="7.6" text-anchor="end" fill="#231f20" stroke="#231f20" textLength="3.93" lengthAdjust="spacingAndGlyphs" >1</text>
<line x1="55.10" y1="391.80" x2="58.70" y2="391.80" stroke="#231f20" stroke-width="0.9" />
<text x="52.10" y="394.50" font-size="7.6" text-anchor="end" fill="#231f20" stroke="#231f20" textLength="3.93" lengthAdjust="spacingAndGlyphs" >2</text>
<line x1="55.10" y1="373.40" x2="58.70" y2="373.40" stroke="#231f20" stroke-width="0.9" />
<text x="52.10" y="376.10" font-size="7.6" text-anchor="end" fill="#231f20" stroke="#231f20" textLength="3.93" lengthAdjust="spacingAndGlyphs" >3</text>
<line x1="55.10" y1="355.00" x2="58.70" y2="355.00" stroke="#231f20" stroke-width="0.9" />
<text x="52.10" y="357.70" font-size="7.6" text-anchor="end" fill="#231f20" stroke="#231f20" textLength="3.93" lengthAdjust="spacingAndGlyphs" >4</text>
<rect x="62.80" y="426.02" width="18.6" height="2.58" fill="#4e6180" stroke="#3d5274" stroke-width="0.5"/>
<rect x="90.20" y="424.37" width="18.6" height="4.23" fill="#a23346" stroke="#952236" stroke-width="0.5"/>
<rect x="117.30" y="423.82" width="18.6" height="4.78" fill="#4e6180" stroke="#3d5274" stroke-width="0.5"/>
<rect x="145.10" y="411.12" width="18.6" height="17.48" fill="#a23346" stroke="#952236" stroke-width="0.5"/>
<line x1="72.10" y1="426.02" x2="72.10" y2="420.14" stroke="#231f20" stroke-width="1.0" />
<line x1="66.89" y1="420.14" x2="77.31" y2="420.14" stroke="#231f20" stroke-width="1.0" />
<line x1="99.50" y1="424.37" x2="99.50" y2="420.69" stroke="#231f20" stroke-width="1.0" />
<line x1="94.29" y1="420.69" x2="104.71" y2="420.69" stroke="#231f20" stroke-width="1.0" />
<line x1="126.60" y1="423.82" x2="126.60" y2="418.30" stroke="#231f20" stroke-width="1.0" />
<line x1="121.39" y1="418.30" x2="131.81" y2="418.30" stroke="#231f20" stroke-width="1.0" />
<line x1="154.40" y1="411.12" x2="154.40" y2="396.40" stroke="#231f20" stroke-width="1.0" />
<line x1="149.19" y1="396.40" x2="159.61" y2="396.40" stroke="#231f20" stroke-width="1.0" />
<line x1="58.10" y1="428.60" x2="171.00" y2="428.60" stroke="#141414" stroke-width="1.2" />
<line x1="72.10" y1="428.60" x2="72.10" y2="431.20" stroke="#231f20" stroke-width="0.9" />
<line x1="99.50" y1="428.60" x2="99.50" y2="431.20" stroke="#231f20" stroke-width="0.9" />
<line x1="126.60" y1="428.60" x2="126.60" y2="431.20" stroke="#231f20" stroke-width="0.9" />
<line x1="154.40" y1="428.60" x2="154.40" y2="431.20" stroke="#231f20" stroke-width="0.9" />
<circle cx="72.00" cy="412.30" r="2.55" fill="#fff" stroke="#111" stroke-width="1.1"/>
<circle cx="65.80" cy="424.90" r="2.55" fill="#fff" stroke="#111" stroke-width="1.1"/>
<circle cx="67.90" cy="425.40" r="2.55" fill="#fff" stroke="#111" stroke-width="1.1"/>
<circle cx="71.50" cy="427.50" r="2.55" fill="#fff" stroke="#111" stroke-width="1.1"/>
<circle cx="74.10" cy="422.30" r="2.55" fill="#fff" stroke="#111" stroke-width="1.1"/>
<circle cx="76.70" cy="425.40" r="2.55" fill="#fff" stroke="#111" stroke-width="1.1"/>
<circle cx="78.80" cy="422.80" r="2.55" fill="#fff" stroke="#111" stroke-width="1.1"/>
<circle cx="69.40" cy="427.00" r="2.55" fill="#fff" stroke="#111" stroke-width="1.1"/>
<circle cx="95.40" cy="414.30" r="2.55" fill="#fff" stroke="#111" stroke-width="1.1"/>
<circle cx="103.70" cy="417.10" r="2.55" fill="#fff" stroke="#111" stroke-width="1.1"/>
<circle cx="94.90" cy="424.40" r="2.55" fill="#fff" stroke="#111" stroke-width="1.1"/>
<circle cx="99.00" cy="427.50" r="2.55" fill="#fff" stroke="#111" stroke-width="1.1"/>
<circle cx="103.70" cy="426.00" r="2.55" fill="#fff" stroke="#111" stroke-width="1.1"/>
<circle cx="97.50" cy="422.60" r="2.55" fill="#fff" stroke="#111" stroke-width="1.1"/>
<circle cx="122.10" cy="413.20" r="2.55" fill="#fff" stroke="#111" stroke-width="1.1"/>
<circle cx="131.30" cy="413.20" r="2.55" fill="#fff" stroke="#111" stroke-width="1.1"/>
<circle cx="133.60" cy="416.30" r="2.55" fill="#fff" stroke="#111" stroke-width="1.1"/>
<circle cx="121.00" cy="416.90" r="2.55" fill="#fff" stroke="#111" stroke-width="1.1"/>
<circle cx="125.00" cy="417.50" r="2.55" fill="#fff" stroke="#111" stroke-width="1.1"/>
<circle cx="129.00" cy="416.90" r="2.55" fill="#fff" stroke="#111" stroke-width="1.1"/>
<circle cx="121.00" cy="422.10" r="2.55" fill="#fff" stroke="#111" stroke-width="1.1"/>
<circle cx="126.70" cy="420.90" r="2.55" fill="#fff" stroke="#111" stroke-width="1.1"/>
<circle cx="131.90" cy="422.70" r="2.55" fill="#fff" stroke="#111" stroke-width="1.1"/>
<circle cx="134.20" cy="422.10" r="2.55" fill="#fff" stroke="#111" stroke-width="1.1"/>
<circle cx="119.20" cy="425.50" r="2.55" fill="#fff" stroke="#111" stroke-width="1.1"/>
<circle cx="123.80" cy="426.10" r="2.55" fill="#fff" stroke="#111" stroke-width="1.1"/>
<circle cx="128.50" cy="426.70" r="2.55" fill="#fff" stroke="#111" stroke-width="1.1"/>
<circle cx="133.10" cy="425.50" r="2.55" fill="#fff" stroke="#111" stroke-width="1.1"/>
<circle cx="125.00" cy="428.40" r="2.55" fill="#fff" stroke="#111" stroke-width="1.1"/>
<circle cx="150.40" cy="370.50" r="2.55" fill="#fff" stroke="#111" stroke-width="1.1"/>
<circle cx="162.80" cy="374.80" r="2.55" fill="#fff" stroke="#111" stroke-width="1.1"/>
<circle cx="158.40" cy="380.20" r="2.55" fill="#fff" stroke="#111" stroke-width="1.1"/>
<circle cx="150.40" cy="382.50" r="2.55" fill="#fff" stroke="#111" stroke-width="1.1"/>
<circle cx="159.40" cy="383.40" r="2.55" fill="#fff" stroke="#111" stroke-width="1.1"/>
<circle cx="149.80" cy="386.70" r="2.55" fill="#fff" stroke="#111" stroke-width="1.1"/>
<circle cx="153.30" cy="388.60" r="2.55" fill="#fff" stroke="#111" stroke-width="1.1"/>
<circle cx="156.70" cy="388.10" r="2.55" fill="#fff" stroke="#111" stroke-width="1.1"/>
<circle cx="159.60" cy="393.60" r="2.55" fill="#fff" stroke="#111" stroke-width="1.1"/>
<circle cx="149.20" cy="396.70" r="2.55" fill="#fff" stroke="#111" stroke-width="1.1"/>
<circle cx="154.40" cy="397.90" r="2.55" fill="#fff" stroke="#111" stroke-width="1.1"/>
<circle cx="150.40" cy="400.70" r="2.55" fill="#fff" stroke="#111" stroke-width="1.1"/>
<circle cx="159.60" cy="400.70" r="2.55" fill="#fff" stroke="#111" stroke-width="1.1"/>
<circle cx="156.70" cy="403.30" r="2.55" fill="#fff" stroke="#111" stroke-width="1.1"/>
<circle cx="153.80" cy="406.50" r="2.55" fill="#fff" stroke="#111" stroke-width="1.1"/>
<circle cx="149.20" cy="411.10" r="2.55" fill="#fff" stroke="#111" stroke-width="1.1"/>
<circle cx="159.00" cy="411.10" r="2.55" fill="#fff" stroke="#111" stroke-width="1.1"/>
<circle cx="153.30" cy="414.60" r="2.55" fill="#fff" stroke="#111" stroke-width="1.1"/>
<circle cx="150.40" cy="416.90" r="2.55" fill="#fff" stroke="#111" stroke-width="1.1"/>
<circle cx="156.10" cy="416.90" r="2.55" fill="#fff" stroke="#111" stroke-width="1.1"/>
<circle cx="148.10" cy="419.20" r="2.55" fill="#fff" stroke="#111" stroke-width="1.1"/>
<circle cx="152.90" cy="418.90" r="2.55" fill="#fff" stroke="#111" stroke-width="1.1"/>
<circle cx="160.20" cy="419.80" r="2.55" fill="#fff" stroke="#111" stroke-width="1.1"/>
<circle cx="151.00" cy="422.70" r="2.55" fill="#fff" stroke="#111" stroke-width="1.1"/>
<circle cx="157.30" cy="421.50" r="2.55" fill="#fff" stroke="#111" stroke-width="1.1"/>
<circle cx="148.10" cy="425.00" r="2.55" fill="#fff" stroke="#111" stroke-width="1.1"/>
<circle cx="153.30" cy="425.00" r="2.55" fill="#fff" stroke="#111" stroke-width="1.1"/>
<circle cx="158.40" cy="425.00" r="2.55" fill="#fff" stroke="#111" stroke-width="1.1"/>
<circle cx="155.60" cy="427.30" r="2.55" fill="#fff" stroke="#111" stroke-width="1.1"/>
<circle cx="152.30" cy="359.70" r="1.3" fill="#2a2a2a"/>
<circle cx="155.50" cy="359.70" r="1.3" fill="#2a2a2a"/>
<circle cx="158.70" cy="359.70" r="1.3" fill="#2a2a2a"/>
<text transform="translate(41.30,390.40) rotate(-90)" x="0" y="0" font-size="9.2" text-anchor="middle" fill="#231f20" stroke="#231f20" textLength="81.60" lengthAdjust="spacingAndGlyphs">Monocytes (10<tspan dy="-3.4" font-size="6.4">3</tspan><tspan dy="3.4">/µl)</tspan></text>
<text x="56.00" y="443.20" font-size="8.2" text-anchor="end" fill="#231f20" stroke="#231f20" textLength="20.30" lengthAdjust="spacingAndGlyphs" >Shp1:</text>
<text x="72.10" y="443.20" font-size="8.2" text-anchor="middle" fill="#5572a0" stroke="#5572a0" textLength="13.00" lengthAdjust="spacingAndGlyphs" >+/+</text>
<text x="99.50" y="443.20" font-size="8.2" text-anchor="middle" fill="#a43048" stroke="#a43048" textLength="11.60" lengthAdjust="spacingAndGlyphs" >fl/fl</text>
<text x="126.60" y="443.20" font-size="8.2" text-anchor="middle" fill="#5572a0" stroke="#5572a0" textLength="13.00" lengthAdjust="spacingAndGlyphs" >+/+</text>
<text x="154.40" y="443.20" font-size="8.2" text-anchor="middle" fill="#a43048" stroke="#a43048" textLength="11.60" lengthAdjust="spacingAndGlyphs" >fl/fl</text>
<line x1="63.70" y1="447.00" x2="110.40" y2="447.00" stroke="#2a2a2a" stroke-width="1.0" />
<line x1="116.90" y1="447.00" x2="163.50" y2="447.00" stroke="#2a2a2a" stroke-width="1.0" />
<text x="87.05" y="458.20" font-size="8.2" text-anchor="middle" fill="#231f20" stroke="#231f20" textLength="38.50" lengthAdjust="spacingAndGlyphs" >Gp1ba-Cre</text>
<text x="140.20" y="458.20" font-size="8.2" text-anchor="middle" fill="#231f20" stroke="#231f20" textLength="26.50" lengthAdjust="spacingAndGlyphs" >Pf4-Cre</text>
<line x1="231.20" y1="352.50" x2="231.20" y2="429.20" stroke="#141414" stroke-width="1.25" />
<line x1="227.60" y1="428.60" x2="231.20" y2="428.60" stroke="#231f20" stroke-width="0.9" />
<text x="224.60" y="431.30" font-size="7.6" text-anchor="end" fill="#231f20" stroke="#231f20" textLength="3.93" lengthAdjust="spacingAndGlyphs" >0</text>
<line x1="227.60" y1="413.90" x2="231.20" y2="413.90" stroke="#231f20" stroke-width="0.9" />
<text x="224.60" y="416.60" font-size="7.6" text-anchor="end" fill="#231f20" stroke="#231f20" textLength="3.93" lengthAdjust="spacingAndGlyphs" >2</text>
<line x1="227.60" y1="399.20" x2="231.20" y2="399.20" stroke="#231f20" stroke-width="0.9" />
<text x="224.60" y="401.90" font-size="7.6" text-anchor="end" fill="#231f20" stroke="#231f20" textLength="3.93" lengthAdjust="spacingAndGlyphs" >4</text>
<line x1="227.60" y1="384.50" x2="231.20" y2="384.50" stroke="#231f20" stroke-width="0.9" />
<text x="224.60" y="387.20" font-size="7.6" text-anchor="end" fill="#231f20" stroke="#231f20" textLength="3.93" lengthAdjust="spacingAndGlyphs" >6</text>
<line x1="227.60" y1="369.80" x2="231.20" y2="369.80" stroke="#231f20" stroke-width="0.9" />
<text x="224.60" y="372.50" font-size="7.6" text-anchor="end" fill="#231f20" stroke="#231f20" textLength="3.93" lengthAdjust="spacingAndGlyphs" >8</text>
<line x1="227.60" y1="355.10" x2="231.20" y2="355.10" stroke="#231f20" stroke-width="0.9" />
<text x="224.60" y="357.80" font-size="7.6" text-anchor="end" fill="#231f20" stroke="#231f20" textLength="7.86" lengthAdjust="spacingAndGlyphs" >10</text>
<rect x="235.30" y="427.50" width="18.6" height="1.10" fill="#4e6180" stroke="#3d5274" stroke-width="0.5"/>
<rect x="262.30" y="427.72" width="18.6" height="0.88" fill="#a23346" stroke="#952236" stroke-width="0.5"/>
<rect x="290.00" y="423.97" width="18.6" height="4.63" fill="#4e6180" stroke="#3d5274" stroke-width="0.5"/>
<rect x="317.65" y="413.39" width="18.6" height="15.21" fill="#a23346" stroke="#952236" stroke-width="0.5"/>
<line x1="244.60" y1="427.50" x2="244.60" y2="426.03" stroke="#231f20" stroke-width="1.0" />
<line x1="239.39" y1="426.03" x2="249.81" y2="426.03" stroke="#231f20" stroke-width="1.0" />
<line x1="271.60" y1="427.72" x2="271.60" y2="426.98" stroke="#231f20" stroke-width="1.0" />
<line x1="266.39" y1="426.98" x2="276.81" y2="426.98" stroke="#231f20" stroke-width="1.0" />
<line x1="299.30" y1="423.97" x2="299.30" y2="419.56" stroke="#231f20" stroke-width="1.0" />
<line x1="294.09" y1="419.56" x2="304.51" y2="419.56" stroke="#231f20" stroke-width="1.0" />
<line x1="326.95" y1="413.39" x2="326.95" y2="404.57" stroke="#231f20" stroke-width="1.0" />
<line x1="321.74" y1="404.57" x2="332.16" y2="404.57" stroke="#231f20" stroke-width="1.0" />
<line x1="230.60" y1="428.60" x2="340.50" y2="428.60" stroke="#141414" stroke-width="1.2" />
<line x1="244.60" y1="428.60" x2="244.60" y2="431.20" stroke="#231f20" stroke-width="0.9" />
<line x1="271.60" y1="428.60" x2="271.60" y2="431.20" stroke="#231f20" stroke-width="0.9" />
<line x1="299.30" y1="428.60" x2="299.30" y2="431.20" stroke="#231f20" stroke-width="0.9" />
<line x1="326.95" y1="428.60" x2="326.95" y2="431.20" stroke="#231f20" stroke-width="0.9" />
<circle cx="240.00" cy="424.70" r="2.55" fill="#fff" stroke="#111" stroke-width="1.1"/>
<circle cx="242.30" cy="427.70" r="2.55" fill="#fff" stroke="#111" stroke-width="1.1"/>
<circle cx="248.10" cy="427.00" r="2.55" fill="#fff" stroke="#111" stroke-width="1.1"/>
<circle cx="245.00" cy="426.00" r="2.55" fill="#fff" stroke="#111" stroke-width="1.1"/>
<circle cx="267.70" cy="426.30" r="2.55" fill="#fff" stroke="#111" stroke-width="1.1"/>
<circle cx="271.20" cy="427.70" r="2.55" fill="#fff" stroke="#111" stroke-width="1.1"/>
<circle cx="275.80" cy="427.00" r="2.55" fill="#fff" stroke="#111" stroke-width="1.1"/>
<circle cx="278.10" cy="426.30" r="2.55" fill="#fff" stroke="#111" stroke-width="1.1"/>
<circle cx="299.30" cy="405.70" r="2.55" fill="#fff" stroke="#111" stroke-width="1.1"/>
<circle cx="292.90" cy="414.50" r="2.55" fill="#fff" stroke="#111" stroke-width="1.1"/>
<circle cx="295.00" cy="414.00" r="2.55" fill="#fff" stroke="#111" stroke-width="1.1"/>
<circle cx="305.10" cy="414.00" r="2.55" fill="#fff" stroke="#111" stroke-width="1.1"/>
<circle cx="307.20" cy="415.00" r="2.55" fill="#fff" stroke="#111" stroke-width="1.1"/>
<circle cx="293.50" cy="417.70" r="2.55" fill="#fff" stroke="#111" stroke-width="1.1"/>
<circle cx="296.60" cy="418.70" r="2.55" fill="#fff" stroke="#111" stroke-width="1.1"/>
<circle cx="301.90" cy="419.80" r="2.55" fill="#fff" stroke="#111" stroke-width="1.1"/>
<circle cx="305.60" cy="417.70" r="2.55" fill="#fff" stroke="#111" stroke-width="1.1"/>
<circle cx="295.60" cy="422.40" r="2.55" fill="#fff" stroke="#111" stroke-width="1.1"/>
<circle cx="299.80" cy="422.40" r="2.55" fill="#fff" stroke="#111" stroke-width="1.1"/>
<circle cx="303.00" cy="422.40" r="2.55" fill="#fff" stroke="#111" stroke-width="1.1"/>
<circle cx="296.60" cy="426.70" r="2.55" fill="#fff" stroke="#111" stroke-width="1.1"/>
<circle cx="302.50" cy="426.10" r="2.55" fill="#fff" stroke="#111" stroke-width="1.1"/>
<circle cx="299.30" cy="428.80" r="2.55" fill="#fff" stroke="#111" stroke-width="1.1"/>
<circle cx="294.50" cy="427.70" r="2.55" fill="#fff" stroke="#111" stroke-width="1.1"/>
<circle cx="327.00" cy="369.80" r="2.55" fill="#fff" stroke="#111" stroke-width="1.1"/>
<circle cx="322.00" cy="379.60" r="2.55" fill="#fff" stroke="#111" stroke-width="1.1"/>
<circle cx="331.80" cy="380.30" r="2.55" fill="#fff" stroke="#111" stroke-width="1.1"/>
<circle cx="327.00" cy="384.10" r="2.55" fill="#fff" stroke="#111" stroke-width="1.1"/>
<circle cx="322.60" cy="394.90" r="2.55" fill="#fff" stroke="#111" stroke-width="1.1"/>
<circle cx="335.30" cy="400.70" r="2.55" fill="#fff" stroke="#111" stroke-width="1.1"/>
<circle cx="321.00" cy="402.30" r="2.55" fill="#fff" stroke="#111" stroke-width="1.1"/>
<circle cx="325.20" cy="402.30" r="2.55" fill="#fff" stroke="#111" stroke-width="1.1"/>
<circle cx="331.00" cy="403.40" r="2.55" fill="#fff" stroke="#111" stroke-width="1.1"/>
<circle cx="319.90" cy="405.50" r="2.55" fill="#fff" stroke="#111" stroke-width="1.1"/>
<circle cx="323.10" cy="406.60" r="2.55" fill="#fff" stroke="#111" stroke-width="1.1"/>
<circle cx="327.90" cy="406.60" r="2.55" fill="#fff" stroke="#111" stroke-width="1.1"/>
<circle cx="333.10" cy="405.50" r="2.55" fill="#fff" stroke="#111" stroke-width="1.1"/>
<circle cx="321.50" cy="409.20" r="2.55" fill="#fff" stroke="#111" stroke-width="1.1"/>
<circle cx="325.70" cy="409.70" r="2.55" fill="#fff" stroke="#111" stroke-width="1.1"/>
<circle cx="330.50" cy="408.70" r="2.55" fill="#fff" stroke="#111" stroke-width="1.1"/>
<circle cx="323.60" cy="413.40" r="2.55" fill="#fff" stroke="#111" stroke-width="1.1"/>
<circle cx="329.40" cy="412.90" r="2.55" fill="#fff" stroke="#111" stroke-width="1.1"/>
<circle cx="326.80" cy="415.60" r="2.55" fill="#fff" stroke="#111" stroke-width="1.1"/>
<circle cx="322.00" cy="420.30" r="2.55" fill="#fff" stroke="#111" stroke-width="1.1"/>
<circle cx="325.20" cy="417.70" r="2.55" fill="#fff" stroke="#111" stroke-width="1.1"/>
<circle cx="331.60" cy="420.80" r="2.55" fill="#fff" stroke="#111" stroke-width="1.1"/>
<circle cx="327.30" cy="421.90" r="2.55" fill="#fff" stroke="#111" stroke-width="1.1"/>
<circle cx="323.10" cy="423.00" r="2.55" fill="#fff" stroke="#111" stroke-width="1.1"/>
<circle cx="330.50" cy="423.50" r="2.55" fill="#fff" stroke="#111" stroke-width="1.1"/>
<circle cx="324.20" cy="426.10" r="2.55" fill="#fff" stroke="#111" stroke-width="1.1"/>
<circle cx="328.90" cy="425.60" r="2.55" fill="#fff" stroke="#111" stroke-width="1.1"/>
<circle cx="326.30" cy="428.30" r="2.55" fill="#fff" stroke="#111" stroke-width="1.1"/>
<circle cx="323.10" cy="360.80" r="1.3" fill="#2a2a2a"/>
<circle cx="326.30" cy="360.80" r="1.3" fill="#2a2a2a"/>
<circle cx="329.50" cy="360.80" r="1.3" fill="#2a2a2a"/>
<text transform="translate(196.10,390.30) rotate(-90)" x="0" y="0" font-size="9.2" text-anchor="middle" fill="#231f20" stroke="#231f20" textLength="92.10" lengthAdjust="spacingAndGlyphs">Atypical lymphocytes</text>
<text transform="translate(209.00,390.70) rotate(-90)" x="0" y="0" font-size="9.2" text-anchor="middle" fill="#231f20" stroke="#231f20" textLength="31.80" lengthAdjust="spacingAndGlyphs">(10<tspan dy="-3.4" font-size="6.4">3</tspan><tspan dy="3.4">/µl)</tspan></text>
<text x="228.40" y="443.20" font-size="8.2" text-anchor="end" fill="#231f20" stroke="#231f20" textLength="20.30" lengthAdjust="spacingAndGlyphs" >Shp1:</text>
<text x="244.60" y="443.20" font-size="8.2" text-anchor="middle" fill="#5572a0" stroke="#5572a0" textLength="13.00" lengthAdjust="spacingAndGlyphs" >+/+</text>
<text x="271.60" y="443.20" font-size="8.2" text-anchor="middle" fill="#a43048" stroke="#a43048" textLength="11.60" lengthAdjust="spacingAndGlyphs" >fl/fl</text>
<text x="299.30" y="443.20" font-size="8.2" text-anchor="middle" fill="#5572a0" stroke="#5572a0" textLength="13.00" lengthAdjust="spacingAndGlyphs" >+/+</text>
<text x="326.95" y="443.20" font-size="8.2" text-anchor="middle" fill="#a43048" stroke="#a43048" textLength="11.60" lengthAdjust="spacingAndGlyphs" >fl/fl</text>
<line x1="236.50" y1="447.00" x2="282.90" y2="447.00" stroke="#2a2a2a" stroke-width="1.0" />
<line x1="289.40" y1="447.00" x2="335.90" y2="447.00" stroke="#2a2a2a" stroke-width="1.0" />
<text x="259.70" y="458.20" font-size="8.2" text-anchor="middle" fill="#231f20" stroke="#231f20" textLength="38.50" lengthAdjust="spacingAndGlyphs" >Gp1ba-Cre</text>
<text x="312.65" y="458.20" font-size="8.2" text-anchor="middle" fill="#231f20" stroke="#231f20" textLength="26.50" lengthAdjust="spacingAndGlyphs" >Pf4-Cre</text>
<line x1="402.30" y1="352.50" x2="402.30" y2="429.20" stroke="#141414" stroke-width="1.25" />
<line x1="398.70" y1="428.60" x2="402.30" y2="428.60" stroke="#231f20" stroke-width="0.9" />
<text x="395.70" y="431.30" font-size="7.6" text-anchor="end" fill="#231f20" stroke="#231f20" textLength="9.82" lengthAdjust="spacingAndGlyphs" >0.0</text>
<line x1="398.70" y1="413.90" x2="402.30" y2="413.90" stroke="#231f20" stroke-width="0.9" />
<text x="395.70" y="416.60" font-size="7.6" text-anchor="end" fill="#231f20" stroke="#231f20" textLength="9.82" lengthAdjust="spacingAndGlyphs" >0.1</text>
<line x1="398.70" y1="399.20" x2="402.30" y2="399.20" stroke="#231f20" stroke-width="0.9" />
<text x="395.70" y="401.90" font-size="7.6" text-anchor="end" fill="#231f20" stroke="#231f20" textLength="9.82" lengthAdjust="spacingAndGlyphs" >0.2</text>
<line x1="398.70" y1="384.50" x2="402.30" y2="384.50" stroke="#231f20" stroke-width="0.9" />
<text x="395.70" y="387.20" font-size="7.6" text-anchor="end" fill="#231f20" stroke="#231f20" textLength="9.82" lengthAdjust="spacingAndGlyphs" >0.3</text>
<line x1="398.70" y1="369.80" x2="402.30" y2="369.80" stroke="#231f20" stroke-width="0.9" />
<text x="395.70" y="372.50" font-size="7.6" text-anchor="end" fill="#231f20" stroke="#231f20" textLength="9.82" lengthAdjust="spacingAndGlyphs" >0.4</text>
<line x1="398.70" y1="355.10" x2="402.30" y2="355.10" stroke="#231f20" stroke-width="0.9" />
<text x="395.70" y="357.80" font-size="7.6" text-anchor="end" fill="#231f20" stroke="#231f20" textLength="9.82" lengthAdjust="spacingAndGlyphs" >0.5</text>
<rect x="406.90" y="425.66" width="18.6" height="2.94" fill="#4e6180" stroke="#3d5274" stroke-width="0.5"/>
<rect x="434.20" y="427.28" width="18.6" height="1.32" fill="#a23346" stroke="#952236" stroke-width="0.5"/>
<rect x="461.90" y="424.19" width="18.6" height="4.41" fill="#4e6180" stroke="#3d5274" stroke-width="0.5"/>
<rect x="489.15" y="415.37" width="18.6" height="13.23" fill="#a23346" stroke="#952236" stroke-width="0.5"/>
<line x1="416.20" y1="425.66" x2="416.20" y2="421.25" stroke="#231f20" stroke-width="1.0" />
<line x1="410.99" y1="421.25" x2="421.41" y2="421.25" stroke="#231f20" stroke-width="1.0" />
<line x1="471.20" y1="424.19" x2="471.20" y2="419.78" stroke="#231f20" stroke-width="1.0" />
<line x1="465.99" y1="419.78" x2="476.41" y2="419.78" stroke="#231f20" stroke-width="1.0" />
<line x1="498.45" y1="415.37" x2="498.45" y2="405.08" stroke="#231f20" stroke-width="1.0" />
<line x1="493.24" y1="405.08" x2="503.66" y2="405.08" stroke="#231f20" stroke-width="1.0" />
<line x1="401.70" y1="428.60" x2="512.30" y2="428.60" stroke="#141414" stroke-width="1.2" />
<line x1="416.20" y1="428.60" x2="416.20" y2="431.20" stroke="#231f20" stroke-width="0.9" />
<line x1="443.50" y1="428.60" x2="443.50" y2="431.20" stroke="#231f20" stroke-width="0.9" />
<line x1="471.20" y1="428.60" x2="471.20" y2="431.20" stroke="#231f20" stroke-width="0.9" />
<line x1="498.45" y1="428.60" x2="498.45" y2="431.20" stroke="#231f20" stroke-width="0.9" />
<circle cx="416.00" cy="416.60" r="2.55" fill="#fff" stroke="#111" stroke-width="1.1"/>
<circle cx="409.70" cy="425.80" r="2.55" fill="#fff" stroke="#111" stroke-width="1.1"/>
<circle cx="414.90" cy="428.70" r="2.55" fill="#fff" stroke="#111" stroke-width="1.1"/>
<circle cx="418.60" cy="426.30" r="2.55" fill="#fff" stroke="#111" stroke-width="1.1"/>
<circle cx="422.20" cy="425.80" r="2.55" fill="#fff" stroke="#111" stroke-width="1.1"/>
<circle cx="412.90" cy="424.70" r="2.55" fill="#fff" stroke="#111" stroke-width="1.1"/>
<circle cx="438.30" cy="424.20" r="2.55" fill="#fff" stroke="#111" stroke-width="1.1"/>
<circle cx="439.90" cy="426.30" r="2.55" fill="#fff" stroke="#111" stroke-width="1.1"/>
<circle cx="444.00" cy="428.40" r="2.55" fill="#fff" stroke="#111" stroke-width="1.1"/>
<circle cx="447.10" cy="426.80" r="2.55" fill="#fff" stroke="#111" stroke-width="1.1"/>
<circle cx="448.70" cy="424.20" r="2.55" fill="#fff" stroke="#111" stroke-width="1.1"/>
<circle cx="466.90" cy="414.60" r="2.55" fill="#fff" stroke="#111" stroke-width="1.1"/>
<circle cx="474.90" cy="414.80" r="2.55" fill="#fff" stroke="#111" stroke-width="1.1"/>
<circle cx="468.60" cy="418.20" r="2.55" fill="#fff" stroke="#111" stroke-width="1.1"/>
<circle cx="472.40" cy="419.30" r="2.55" fill="#fff" stroke="#111" stroke-width="1.1"/>
<circle cx="464.70" cy="424.20" r="2.55" fill="#fff" stroke="#111" stroke-width="1.1"/>
<circle cx="469.10" cy="422.60" r="2.55" fill="#fff" stroke="#111" stroke-width="1.1"/>
<circle cx="473.50" cy="423.70" r="2.55" fill="#fff" stroke="#111" stroke-width="1.1"/>
<circle cx="477.40" cy="424.20" r="2.55" fill="#fff" stroke="#111" stroke-width="1.1"/>
<circle cx="470.80" cy="427.00" r="2.55" fill="#fff" stroke="#111" stroke-width="1.1"/>
<circle cx="475.20" cy="427.00" r="2.55" fill="#fff" stroke="#111" stroke-width="1.1"/>
<circle cx="466.40" cy="426.40" r="2.55" fill="#fff" stroke="#111" stroke-width="1.1"/>
<circle cx="498.30" cy="361.00" r="2.55" fill="#fff" stroke="#111" stroke-width="1.1"/>
<circle cx="498.30" cy="377.10" r="2.55" fill="#fff" stroke="#111" stroke-width="1.1"/>
<circle cx="498.30" cy="389.30" r="2.55" fill="#fff" stroke="#111" stroke-width="1.1"/>
<circle cx="494.30" cy="391.90" r="2.55" fill="#fff" stroke="#111" stroke-width="1.1"/>
<circle cx="502.80" cy="395.00" r="2.55" fill="#fff" stroke="#111" stroke-width="1.1"/>
<circle cx="493.90" cy="397.20" r="2.55" fill="#fff" stroke="#111" stroke-width="1.1"/>
<circle cx="497.80" cy="397.20" r="2.55" fill="#fff" stroke="#111" stroke-width="1.1"/>
<circle cx="501.70" cy="398.30" r="2.55" fill="#fff" stroke="#111" stroke-width="1.1"/>
<circle cx="498.90" cy="401.60" r="2.55" fill="#fff" stroke="#111" stroke-width="1.1"/>
<circle cx="502.80" cy="404.90" r="2.55" fill="#fff" stroke="#111" stroke-width="1.1"/>
<circle cx="493.90" cy="407.10" r="2.55" fill="#fff" stroke="#111" stroke-width="1.1"/>
<circle cx="498.30" cy="407.70" r="2.55" fill="#fff" stroke="#111" stroke-width="1.1"/>
<circle cx="492.30" cy="411.50" r="2.55" fill="#fff" stroke="#111" stroke-width="1.1"/>
<circle cx="496.10" cy="411.00" r="2.55" fill="#fff" stroke="#111" stroke-width="1.1"/>
<circle cx="502.20" cy="410.40" r="2.55" fill="#fff" stroke="#111" stroke-width="1.1"/>
<circle cx="505.50" cy="412.10" r="2.55" fill="#fff" stroke="#111" stroke-width="1.1"/>
<circle cx="492.80" cy="415.40" r="2.55" fill="#fff" stroke="#111" stroke-width="1.1"/>
<circle cx="497.20" cy="415.40" r="2.55" fill="#fff" stroke="#111" stroke-width="1.1"/>
<circle cx="503.90" cy="416.00" r="2.55" fill="#fff" stroke="#111" stroke-width="1.1"/>
<circle cx="499.40" cy="418.20" r="2.55" fill="#fff" stroke="#111" stroke-width="1.1"/>
<circle cx="495.00" cy="419.30" r="2.55" fill="#fff" stroke="#111" stroke-width="1.1"/>
<circle cx="501.70" cy="420.40" r="2.55" fill="#fff" stroke="#111" stroke-width="1.1"/>
<circle cx="493.40" cy="421.50" r="2.55" fill="#fff" stroke="#111" stroke-width="1.1"/>
<circle cx="495.60" cy="423.10" r="2.55" fill="#fff" stroke="#111" stroke-width="1.1"/>
<circle cx="501.10" cy="423.70" r="2.55" fill="#fff" stroke="#111" stroke-width="1.1"/>
<circle cx="496.70" cy="426.40" r="2.55" fill="#fff" stroke="#111" stroke-width="1.1"/>
<circle cx="499.40" cy="428.10" r="2.55" fill="#fff" stroke="#111" stroke-width="1.1"/>
<circle cx="495.10" cy="355.40" r="1.3" fill="#2a2a2a"/>
<circle cx="498.30" cy="355.40" r="1.3" fill="#2a2a2a"/>
<circle cx="501.50" cy="355.40" r="1.3" fill="#2a2a2a"/>
<text transform="translate(365.10,390.55) rotate(-90)" x="0" y="0" font-size="9.2" text-anchor="middle" fill="#231f20" stroke="#231f20" textLength="67.70" lengthAdjust="spacingAndGlyphs">Large immature</text>
<text transform="translate(377.60,390.70) rotate(-90)" x="0" y="0" font-size="9.2" text-anchor="middle" fill="#231f20" stroke="#231f20" textLength="53.40" lengthAdjust="spacingAndGlyphs">cells (10<tspan dy="-3.4" font-size="6.4">3</tspan><tspan dy="3.4">/µl)</tspan></text>
<text x="400.10" y="443.20" font-size="8.2" text-anchor="end" fill="#231f20" stroke="#231f20" textLength="20.30" lengthAdjust="spacingAndGlyphs" >Shp1:</text>
<text x="416.20" y="443.20" font-size="8.2" text-anchor="middle" fill="#5572a0" stroke="#5572a0" textLength="13.00" lengthAdjust="spacingAndGlyphs" >+/+</text>
<text x="443.50" y="443.20" font-size="8.2" text-anchor="middle" fill="#a43048" stroke="#a43048" textLength="11.60" lengthAdjust="spacingAndGlyphs" >fl/fl</text>
<text x="471.20" y="443.20" font-size="8.2" text-anchor="middle" fill="#5572a0" stroke="#5572a0" textLength="13.00" lengthAdjust="spacingAndGlyphs" >+/+</text>
<text x="498.45" y="443.20" font-size="8.2" text-anchor="middle" fill="#a43048" stroke="#a43048" textLength="11.60" lengthAdjust="spacingAndGlyphs" >fl/fl</text>
<line x1="408.20" y1="447.00" x2="454.20" y2="447.00" stroke="#2a2a2a" stroke-width="1.0" />
<line x1="460.80" y1="447.00" x2="507.70" y2="447.00" stroke="#2a2a2a" stroke-width="1.0" />
<text x="431.20" y="458.20" font-size="8.2" text-anchor="middle" fill="#231f20" stroke="#231f20" textLength="38.50" lengthAdjust="spacingAndGlyphs" >Gp1ba-Cre</text>
<text x="484.25" y="458.20" font-size="8.2" text-anchor="middle" fill="#231f20" stroke="#231f20" textLength="26.50" lengthAdjust="spacingAndGlyphs" >Pf4-Cre</text>
<text x="8.60" y="487.70" font-size="12.6" text-anchor="start" fill="#231f20" stroke="#231f20" textLength="6.22" lengthAdjust="spacingAndGlyphs" style="stroke-width:0.16px">E</text>
<line x1="58.80" y1="487.80" x2="58.80" y2="561.90" stroke="#141414" stroke-width="1.25" />
<line x1="55.20" y1="561.30" x2="58.80" y2="561.30" stroke="#231f20" stroke-width="0.9" />
<text x="52.20" y="564.00" font-size="7.6" text-anchor="end" fill="#231f20" stroke="#231f20" textLength="3.93" lengthAdjust="spacingAndGlyphs" >0</text>
<line x1="55.20" y1="540.40" x2="58.80" y2="540.40" stroke="#231f20" stroke-width="0.9" />
<text x="52.20" y="543.10" font-size="7.6" text-anchor="end" fill="#231f20" stroke="#231f20" textLength="3.93" lengthAdjust="spacingAndGlyphs" >5</text>
<line x1="55.20" y1="519.50" x2="58.80" y2="519.50" stroke="#231f20" stroke-width="0.9" />
<text x="52.20" y="522.20" font-size="7.6" text-anchor="end" fill="#231f20" stroke="#231f20" textLength="7.86" lengthAdjust="spacingAndGlyphs" >10</text>
<line x1="55.20" y1="498.60" x2="58.80" y2="498.60" stroke="#231f20" stroke-width="0.9" />
<text x="52.20" y="501.30" font-size="7.6" text-anchor="end" fill="#231f20" stroke="#231f20" textLength="7.86" lengthAdjust="spacingAndGlyphs" >15</text>
<rect x="63.25" y="544.71" width="18.4" height="16.59" fill="#4e6180" stroke="#3d5274" stroke-width="0.5"/>
<rect x="90.65" y="543.62" width="18.4" height="17.68" fill="#a23346" stroke="#952236" stroke-width="0.5"/>
<rect x="118.15" y="545.92" width="18.4" height="15.38" fill="#4e6180" stroke="#3d5274" stroke-width="0.5"/>
<rect x="145.80" y="511.98" width="18.4" height="49.32" fill="#a23346" stroke="#952236" stroke-width="0.5"/>
<line x1="72.45" y1="544.71" x2="72.45" y2="542.62" stroke="#231f20" stroke-width="1.0" />
<line x1="67.30" y1="542.62" x2="77.60" y2="542.62" stroke="#231f20" stroke-width="1.0" />
<line x1="99.85" y1="543.62" x2="99.85" y2="541.11" stroke="#231f20" stroke-width="1.0" />
<line x1="94.70" y1="541.11" x2="105.00" y2="541.11" stroke="#231f20" stroke-width="1.0" />
<line x1="127.35" y1="545.92" x2="127.35" y2="544.25" stroke="#231f20" stroke-width="1.0" />
<line x1="122.20" y1="544.25" x2="132.50" y2="544.25" stroke="#231f20" stroke-width="1.0" />
<line x1="155.00" y1="511.98" x2="155.00" y2="498.60" stroke="#231f20" stroke-width="1.0" />
<line x1="149.85" y1="498.60" x2="160.15" y2="498.60" stroke="#231f20" stroke-width="1.0" />
<line x1="58.20" y1="561.30" x2="169.30" y2="561.30" stroke="#141414" stroke-width="1.2" />
<line x1="72.45" y1="561.30" x2="72.45" y2="563.90" stroke="#231f20" stroke-width="0.9" />
<line x1="99.85" y1="561.30" x2="99.85" y2="563.90" stroke="#231f20" stroke-width="0.9" />
<line x1="127.35" y1="561.30" x2="127.35" y2="563.90" stroke="#231f20" stroke-width="0.9" />
<line x1="155.00" y1="561.30" x2="155.00" y2="563.90" stroke="#231f20" stroke-width="0.9" />
<circle cx="66.90" cy="542.60" r="2.75" fill="#fff" stroke="#111" stroke-width="1.1"/>
<circle cx="70.80" cy="544.60" r="2.75" fill="#fff" stroke="#111" stroke-width="1.1"/>
<circle cx="74.60" cy="544.20" r="2.75" fill="#fff" stroke="#111" stroke-width="1.1"/>
<circle cx="77.70" cy="543.10" r="2.75" fill="#fff" stroke="#111" stroke-width="1.1"/>
<circle cx="73.10" cy="547.20" r="2.75" fill="#fff" stroke="#111" stroke-width="1.1"/>
<circle cx="95.10" cy="540.80" r="2.75" fill="#fff" stroke="#111" stroke-width="1.1"/>
<circle cx="100.00" cy="538.50" r="2.75" fill="#fff" stroke="#111" stroke-width="1.1"/>
<circle cx="104.90" cy="541.50" r="2.75" fill="#fff" stroke="#111" stroke-width="1.1"/>
<circle cx="96.90" cy="544.60" r="2.75" fill="#fff" stroke="#111" stroke-width="1.1"/>
<circle cx="101.50" cy="545.70" r="2.75" fill="#fff" stroke="#111" stroke-width="1.1"/>
<circle cx="100.30" cy="548.80" r="2.75" fill="#fff" stroke="#111" stroke-width="1.1"/>
<circle cx="122.30" cy="542.30" r="2.75" fill="#fff" stroke="#111" stroke-width="1.1"/>
<circle cx="126.20" cy="546.20" r="2.75" fill="#fff" stroke="#111" stroke-width="1.1"/>
<circle cx="131.50" cy="545.10" r="2.75" fill="#fff" stroke="#111" stroke-width="1.1"/>
<circle cx="127.70" cy="549.20" r="2.75" fill="#fff" stroke="#111" stroke-width="1.1"/>
<circle cx="149.70" cy="500.80" r="2.75" fill="#fff" stroke="#111" stroke-width="1.1"/>
<circle cx="155.90" cy="500.30" r="2.75" fill="#fff" stroke="#111" stroke-width="1.1"/>
<circle cx="160.00" cy="493.90" r="2.75" fill="#fff" stroke="#111" stroke-width="1.1"/>
<circle cx="150.80" cy="510.00" r="2.75" fill="#fff" stroke="#111" stroke-width="1.1"/>
<circle cx="158.90" cy="509.30" r="2.75" fill="#fff" stroke="#111" stroke-width="1.1"/>
<circle cx="150.80" cy="523.20" r="2.75" fill="#fff" stroke="#111" stroke-width="1.1"/>
<circle cx="158.90" cy="526.20" r="2.75" fill="#fff" stroke="#111" stroke-width="1.1"/>
<circle cx="154.80" cy="534.70" r="2.75" fill="#fff" stroke="#111" stroke-width="1.1"/>
<circle cx="152.10" cy="485.50" r="1.3" fill="#2a2a2a"/>
<circle cx="155.30" cy="485.50" r="1.3" fill="#2a2a2a"/>
<circle cx="158.50" cy="485.50" r="1.3" fill="#2a2a2a"/>
<text transform="translate(24.70,525.00) rotate(-90)" x="0" y="0" font-size="9.2" text-anchor="middle" fill="#231f20" stroke="#231f20" textLength="54.50" lengthAdjust="spacingAndGlyphs">Spleen/body</text>
<text transform="translate(36.90,524.90) rotate(-90)" x="0" y="0" font-size="9.2" text-anchor="middle" fill="#231f20" stroke="#231f20" textLength="60.90" lengthAdjust="spacingAndGlyphs">weight (mg/g)</text>
<text x="56.00" y="576.20" font-size="8.2" text-anchor="end" fill="#231f20" stroke="#231f20" textLength="20.30" lengthAdjust="spacingAndGlyphs" >Shp1:</text>
<text x="72.45" y="576.20" font-size="8.2" text-anchor="middle" fill="#5572a0" stroke="#5572a0" textLength="13.00" lengthAdjust="spacingAndGlyphs" >+/+</text>
<text x="99.85" y="576.20" font-size="8.2" text-anchor="middle" fill="#a43048" stroke="#a43048" textLength="11.60" lengthAdjust="spacingAndGlyphs" >fl/fl</text>
<text x="127.35" y="576.20" font-size="8.2" text-anchor="middle" fill="#5572a0" stroke="#5572a0" textLength="13.00" lengthAdjust="spacingAndGlyphs" >+/+</text>
<text x="155.00" y="576.20" font-size="8.2" text-anchor="middle" fill="#a43048" stroke="#a43048" textLength="11.60" lengthAdjust="spacingAndGlyphs" >fl/fl</text>
<line x1="64.70" y1="579.60" x2="110.40" y2="579.60" stroke="#2a2a2a" stroke-width="1.0" />
<line x1="116.90" y1="579.60" x2="163.50" y2="579.60" stroke="#2a2a2a" stroke-width="1.0" />
<text x="87.55" y="590.90" font-size="8.2" text-anchor="middle" fill="#231f20" stroke="#231f20" textLength="38.50" lengthAdjust="spacingAndGlyphs" >Gp1ba-Cre</text>
<text x="140.20" y="590.90" font-size="8.2" text-anchor="middle" fill="#231f20" stroke="#231f20" textLength="26.50" lengthAdjust="spacingAndGlyphs" >Pf4-Cre</text>
<line x1="231.20" y1="485.20" x2="231.20" y2="561.90" stroke="#141414" stroke-width="1.25" />
<line x1="227.60" y1="561.30" x2="231.20" y2="561.30" stroke="#231f20" stroke-width="0.9" />
<text x="224.60" y="564.00" font-size="7.6" text-anchor="end" fill="#231f20" stroke="#231f20" textLength="3.93" lengthAdjust="spacingAndGlyphs" >0</text>
<line x1="227.60" y1="546.60" x2="231.20" y2="546.60" stroke="#231f20" stroke-width="0.9" />
<text x="224.60" y="549.30" font-size="7.6" text-anchor="end" fill="#231f20" stroke="#231f20" textLength="7.86" lengthAdjust="spacingAndGlyphs" >50</text>
<line x1="227.60" y1="531.90" x2="231.20" y2="531.90" stroke="#231f20" stroke-width="0.9" />
<text x="224.60" y="534.60" font-size="7.6" text-anchor="end" fill="#231f20" stroke="#231f20" textLength="11.79" lengthAdjust="spacingAndGlyphs" >100</text>
<line x1="227.60" y1="517.20" x2="231.20" y2="517.20" stroke="#231f20" stroke-width="0.9" />
<text x="224.60" y="519.90" font-size="7.6" text-anchor="end" fill="#231f20" stroke="#231f20" textLength="11.79" lengthAdjust="spacingAndGlyphs" >150</text>
<line x1="227.60" y1="502.50" x2="231.20" y2="502.50" stroke="#231f20" stroke-width="0.9" />
<text x="224.60" y="505.20" font-size="7.6" text-anchor="end" fill="#231f20" stroke="#231f20" textLength="11.79" lengthAdjust="spacingAndGlyphs" >200</text>
<line x1="227.60" y1="487.80" x2="231.20" y2="487.80" stroke="#231f20" stroke-width="0.9" />
<text x="224.60" y="490.50" font-size="7.6" text-anchor="end" fill="#231f20" stroke="#231f20" textLength="11.79" lengthAdjust="spacingAndGlyphs" >250</text>
<rect x="235.40" y="531.02" width="18.4" height="30.28" fill="#4e6180" stroke="#3d5274" stroke-width="0.5"/>
<rect x="263.05" y="528.37" width="18.4" height="32.93" fill="#a23346" stroke="#952236" stroke-width="0.5"/>
<rect x="290.25" y="541.01" width="18.4" height="20.29" fill="#4e6180" stroke="#3d5274" stroke-width="0.5"/>
<rect x="317.95" y="515.73" width="18.4" height="45.57" fill="#a23346" stroke="#952236" stroke-width="0.5"/>
<line x1="244.60" y1="531.02" x2="244.60" y2="525.73" stroke="#231f20" stroke-width="1.0" />
<line x1="239.45" y1="525.73" x2="249.75" y2="525.73" stroke="#231f20" stroke-width="1.0" />
<line x1="272.25" y1="528.37" x2="272.25" y2="523.08" stroke="#231f20" stroke-width="1.0" />
<line x1="267.10" y1="523.08" x2="277.40" y2="523.08" stroke="#231f20" stroke-width="1.0" />
<line x1="299.45" y1="541.01" x2="299.45" y2="536.90" stroke="#231f20" stroke-width="1.0" />
<line x1="294.30" y1="536.90" x2="304.60" y2="536.90" stroke="#231f20" stroke-width="1.0" />
<line x1="327.15" y1="515.73" x2="327.15" y2="499.56" stroke="#231f20" stroke-width="1.0" />
<line x1="322.00" y1="499.56" x2="332.30" y2="499.56" stroke="#231f20" stroke-width="1.0" />
<line x1="230.60" y1="561.30" x2="340.00" y2="561.30" stroke="#141414" stroke-width="1.2" />
<line x1="244.60" y1="561.30" x2="244.60" y2="563.90" stroke="#231f20" stroke-width="0.9" />
<line x1="272.25" y1="561.30" x2="272.25" y2="563.90" stroke="#231f20" stroke-width="0.9" />
<line x1="299.45" y1="561.30" x2="299.45" y2="563.90" stroke="#231f20" stroke-width="0.9" />
<line x1="327.15" y1="561.30" x2="327.15" y2="563.90" stroke="#231f20" stroke-width="0.9" />
<circle cx="240.00" cy="525.80" r="2.75" fill="#fff" stroke="#111" stroke-width="1.1"/>
<circle cx="248.80" cy="525.80" r="2.75" fill="#fff" stroke="#111" stroke-width="1.1"/>
<circle cx="244.40" cy="529.80" r="2.75" fill="#fff" stroke="#111" stroke-width="1.1"/>
<circle cx="239.30" cy="534.70" r="2.75" fill="#fff" stroke="#111" stroke-width="1.1"/>
<circle cx="249.50" cy="535.40" r="2.75" fill="#fff" stroke="#111" stroke-width="1.1"/>
<circle cx="244.40" cy="539.80" r="2.75" fill="#fff" stroke="#111" stroke-width="1.1"/>
<circle cx="272.00" cy="517.70" r="2.75" fill="#fff" stroke="#111" stroke-width="1.1"/>
<circle cx="266.50" cy="525.40" r="2.75" fill="#fff" stroke="#111" stroke-width="1.1"/>
<circle cx="276.90" cy="525.00" r="2.75" fill="#fff" stroke="#111" stroke-width="1.1"/>
<circle cx="269.80" cy="529.80" r="2.75" fill="#fff" stroke="#111" stroke-width="1.1"/>
<circle cx="275.40" cy="529.40" r="2.75" fill="#fff" stroke="#111" stroke-width="1.1"/>
<circle cx="276.50" cy="533.60" r="2.75" fill="#fff" stroke="#111" stroke-width="1.1"/>
<circle cx="267.60" cy="539.80" r="2.75" fill="#fff" stroke="#111" stroke-width="1.1"/>
<circle cx="295.30" cy="534.20" r="2.75" fill="#fff" stroke="#111" stroke-width="1.1"/>
<circle cx="304.10" cy="535.40" r="2.75" fill="#fff" stroke="#111" stroke-width="1.1"/>
<circle cx="294.20" cy="542.00" r="2.75" fill="#fff" stroke="#111" stroke-width="1.1"/>
<circle cx="300.40" cy="539.80" r="2.75" fill="#fff" stroke="#111" stroke-width="1.1"/>
<circle cx="304.80" cy="543.10" r="2.75" fill="#fff" stroke="#111" stroke-width="1.1"/>
<circle cx="299.70" cy="546.40" r="2.75" fill="#fff" stroke="#111" stroke-width="1.1"/>
<circle cx="322.90" cy="494.00" r="2.75" fill="#fff" stroke="#111" stroke-width="1.1"/>
<circle cx="335.80" cy="498.80" r="2.75" fill="#fff" stroke="#111" stroke-width="1.1"/>
<circle cx="322.90" cy="509.50" r="2.75" fill="#fff" stroke="#111" stroke-width="1.1"/>
<circle cx="330.70" cy="506.60" r="2.75" fill="#fff" stroke="#111" stroke-width="1.1"/>
<circle cx="322.90" cy="519.90" r="2.75" fill="#fff" stroke="#111" stroke-width="1.1"/>
<circle cx="331.30" cy="520.50" r="2.75" fill="#fff" stroke="#111" stroke-width="1.1"/>
<circle cx="331.10" cy="535.80" r="2.75" fill="#fff" stroke="#111" stroke-width="1.1"/>
<circle cx="322.50" cy="540.40" r="2.75" fill="#fff" stroke="#111" stroke-width="1.1"/>
<circle cx="322.90" cy="485.00" r="1.3" fill="#2a2a2a"/>
<circle cx="326.10" cy="485.00" r="1.3" fill="#2a2a2a"/>
<circle cx="329.30" cy="485.00" r="1.3" fill="#2a2a2a"/>
<text transform="translate(204.50,523.10) rotate(-90)" x="0" y="0" font-size="9.2" text-anchor="middle" fill="#231f20" stroke="#231f20" textLength="86.10" lengthAdjust="spacingAndGlyphs">Splenocytes # (x10<tspan dy="-3.4" font-size="6.4">6</tspan><tspan dy="3.4">)</tspan></text>
<text x="228.40" y="576.20" font-size="8.2" text-anchor="end" fill="#231f20" stroke="#231f20" textLength="20.30" lengthAdjust="spacingAndGlyphs" >Shp1:</text>
<text x="244.60" y="576.20" font-size="8.2" text-anchor="middle" fill="#5572a0" stroke="#5572a0" textLength="13.00" lengthAdjust="spacingAndGlyphs" >+/+</text>
<text x="272.25" y="576.20" font-size="8.2" text-anchor="middle" fill="#a43048" stroke="#a43048" textLength="11.60" lengthAdjust="spacingAndGlyphs" >fl/fl</text>
<text x="299.45" y="576.20" font-size="8.2" text-anchor="middle" fill="#5572a0" stroke="#5572a0" textLength="13.00" lengthAdjust="spacingAndGlyphs" >+/+</text>
<text x="327.15" y="576.20" font-size="8.2" text-anchor="middle" fill="#a43048" stroke="#a43048" textLength="11.60" lengthAdjust="spacingAndGlyphs" >fl/fl</text>
<line x1="236.50" y1="579.60" x2="282.70" y2="579.60" stroke="#2a2a2a" stroke-width="1.0" />
<line x1="289.20" y1="579.60" x2="335.90" y2="579.60" stroke="#2a2a2a" stroke-width="1.0" />
<text x="259.60" y="590.90" font-size="8.2" text-anchor="middle" fill="#231f20" stroke="#231f20" textLength="38.50" lengthAdjust="spacingAndGlyphs" >Gp1ba-Cre</text>
<text x="312.55" y="590.90" font-size="8.2" text-anchor="middle" fill="#231f20" stroke="#231f20" textLength="26.50" lengthAdjust="spacingAndGlyphs" >Pf4-Cre</text>
<line x1="402.30" y1="485.20" x2="402.30" y2="561.90" stroke="#141414" stroke-width="1.25" />
<line x1="398.70" y1="561.30" x2="402.30" y2="561.30" stroke="#231f20" stroke-width="0.9" />
<text x="395.70" y="564.00" font-size="7.6" text-anchor="end" fill="#231f20" stroke="#231f20" textLength="9.82" lengthAdjust="spacingAndGlyphs" >0.0</text>
<line x1="398.70" y1="550.80" x2="402.30" y2="550.80" stroke="#231f20" stroke-width="0.9" />
<text x="395.70" y="553.50" font-size="7.6" text-anchor="end" fill="#231f20" stroke="#231f20" textLength="9.82" lengthAdjust="spacingAndGlyphs" >2.5</text>
<line x1="398.70" y1="540.30" x2="402.30" y2="540.30" stroke="#231f20" stroke-width="0.9" />
<text x="395.70" y="543.00" font-size="7.6" text-anchor="end" fill="#231f20" stroke="#231f20" textLength="9.82" lengthAdjust="spacingAndGlyphs" >5.0</text>
<line x1="398.70" y1="529.80" x2="402.30" y2="529.80" stroke="#231f20" stroke-width="0.9" />
<text x="395.70" y="532.50" font-size="7.6" text-anchor="end" fill="#231f20" stroke="#231f20" textLength="9.82" lengthAdjust="spacingAndGlyphs" >7.5</text>
<line x1="398.70" y1="519.30" x2="402.30" y2="519.30" stroke="#231f20" stroke-width="0.9" />
<text x="395.70" y="522.00" font-size="7.6" text-anchor="end" fill="#231f20" stroke="#231f20" textLength="13.75" lengthAdjust="spacingAndGlyphs" >10.0</text>
<line x1="398.70" y1="508.80" x2="402.30" y2="508.80" stroke="#231f20" stroke-width="0.9" />
<text x="395.70" y="511.50" font-size="7.6" text-anchor="end" fill="#231f20" stroke="#231f20" textLength="13.75" lengthAdjust="spacingAndGlyphs" >12.5</text>
<line x1="398.70" y1="498.30" x2="402.30" y2="498.30" stroke="#231f20" stroke-width="0.9" />
<text x="395.70" y="501.00" font-size="7.6" text-anchor="end" fill="#231f20" stroke="#231f20" textLength="13.75" lengthAdjust="spacingAndGlyphs" >15.0</text>
<line x1="398.70" y1="487.80" x2="402.30" y2="487.80" stroke="#231f20" stroke-width="0.9" />
<text x="395.70" y="490.50" font-size="7.6" text-anchor="end" fill="#231f20" stroke="#231f20" textLength="13.75" lengthAdjust="spacingAndGlyphs" >17.5</text>
<rect x="406.55" y="554.16" width="18.4" height="7.14" fill="#4e6180" stroke="#3d5274" stroke-width="0.5"/>
<rect x="434.30" y="554.16" width="18.4" height="7.14" fill="#a23346" stroke="#952236" stroke-width="0.5"/>
<rect x="461.80" y="552.48" width="18.4" height="8.82" fill="#4e6180" stroke="#3d5274" stroke-width="0.5"/>
<rect x="489.30" y="519.30" width="18.4" height="42.00" fill="#a23346" stroke="#952236" stroke-width="0.5"/>
<line x1="415.75" y1="554.16" x2="415.75" y2="550.38" stroke="#231f20" stroke-width="1.0" />
<line x1="410.60" y1="550.38" x2="420.90" y2="550.38" stroke="#231f20" stroke-width="1.0" />
<line x1="443.50" y1="554.16" x2="443.50" y2="552.48" stroke="#231f20" stroke-width="1.0" />
<line x1="438.35" y1="552.48" x2="448.65" y2="552.48" stroke="#231f20" stroke-width="1.0" />
<line x1="471.00" y1="552.48" x2="471.00" y2="550.80" stroke="#231f20" stroke-width="1.0" />
<line x1="465.85" y1="550.80" x2="476.15" y2="550.80" stroke="#231f20" stroke-width="1.0" />
<line x1="498.50" y1="519.30" x2="498.50" y2="502.92" stroke="#231f20" stroke-width="1.0" />
<line x1="493.35" y1="502.92" x2="503.65" y2="502.92" stroke="#231f20" stroke-width="1.0" />
<line x1="401.70" y1="561.30" x2="512.80" y2="561.30" stroke="#141414" stroke-width="1.2" />
<line x1="415.75" y1="561.30" x2="415.75" y2="563.90" stroke="#231f20" stroke-width="0.9" />
<line x1="443.50" y1="561.30" x2="443.50" y2="563.90" stroke="#231f20" stroke-width="0.9" />
<line x1="471.00" y1="561.30" x2="471.00" y2="563.90" stroke="#231f20" stroke-width="0.9" />
<line x1="498.50" y1="561.30" x2="498.50" y2="563.90" stroke="#231f20" stroke-width="0.9" />
<circle cx="415.80" cy="544.90" r="2.75" fill="#fff" stroke="#111" stroke-width="1.1"/>
<circle cx="410.50" cy="553.80" r="2.75" fill="#fff" stroke="#111" stroke-width="1.1"/>
<circle cx="414.70" cy="556.90" r="2.75" fill="#fff" stroke="#111" stroke-width="1.1"/>
<circle cx="420.00" cy="554.80" r="2.75" fill="#fff" stroke="#111" stroke-width="1.1"/>
<circle cx="412.00" cy="555.50" r="2.75" fill="#fff" stroke="#111" stroke-width="1.1"/>
<circle cx="417.90" cy="558.00" r="2.75" fill="#fff" stroke="#111" stroke-width="1.1"/>
<circle cx="438.00" cy="553.80" r="2.75" fill="#fff" stroke="#111" stroke-width="1.1"/>
<circle cx="442.20" cy="558.00" r="2.75" fill="#fff" stroke="#111" stroke-width="1.1"/>
<circle cx="447.50" cy="553.10" r="2.75" fill="#fff" stroke="#111" stroke-width="1.1"/>
<circle cx="449.00" cy="551.60" r="2.75" fill="#fff" stroke="#111" stroke-width="1.1"/>
<circle cx="444.30" cy="555.90" r="2.75" fill="#fff" stroke="#111" stroke-width="1.1"/>
<circle cx="465.50" cy="549.50" r="2.75" fill="#fff" stroke="#111" stroke-width="1.1"/>
<circle cx="475.00" cy="549.50" r="2.75" fill="#fff" stroke="#111" stroke-width="1.1"/>
<circle cx="469.70" cy="553.80" r="2.75" fill="#fff" stroke="#111" stroke-width="1.1"/>
<circle cx="473.90" cy="553.80" r="2.75" fill="#fff" stroke="#111" stroke-width="1.1"/>
<circle cx="498.30" cy="491.80" r="2.75" fill="#fff" stroke="#111" stroke-width="1.1"/>
<circle cx="493.40" cy="512.50" r="2.75" fill="#fff" stroke="#111" stroke-width="1.1"/>
<circle cx="502.50" cy="512.10" r="2.75" fill="#fff" stroke="#111" stroke-width="1.1"/>
<circle cx="493.40" cy="516.70" r="2.75" fill="#fff" stroke="#111" stroke-width="1.1"/>
<circle cx="503.10" cy="516.30" r="2.75" fill="#fff" stroke="#111" stroke-width="1.1"/>
<circle cx="498.30" cy="522.00" r="2.75" fill="#fff" stroke="#111" stroke-width="1.1"/>
<circle cx="494.00" cy="541.70" r="2.75" fill="#fff" stroke="#111" stroke-width="1.1"/>
<circle cx="502.50" cy="541.10" r="2.75" fill="#fff" stroke="#111" stroke-width="1.1"/>
<circle cx="492.90" cy="484.10" r="1.3" fill="#2a2a2a"/>
<circle cx="496.10" cy="484.10" r="1.3" fill="#2a2a2a"/>
<circle cx="499.30" cy="484.10" r="1.3" fill="#2a2a2a"/>
<text transform="translate(374.30,523.20) rotate(-90)" x="0" y="0" font-size="9.2" text-anchor="middle" fill="#231f20" stroke="#231f20" textLength="90.40" lengthAdjust="spacingAndGlyphs">Granulocytes # (x10<tspan dy="-3.4" font-size="6.4">6</tspan><tspan dy="3.4">)</tspan></text>
<text x="400.10" y="576.20" font-size="8.2" text-anchor="end" fill="#231f20" stroke="#231f20" textLength="20.30" lengthAdjust="spacingAndGlyphs" >Shp1:</text>
<text x="415.75" y="576.20" font-size="8.2" text-anchor="middle" fill="#5572a0" stroke="#5572a0" textLength="13.00" lengthAdjust="spacingAndGlyphs" >+/+</text>
<text x="443.50" y="576.20" font-size="8.2" text-anchor="middle" fill="#a43048" stroke="#a43048" textLength="11.60" lengthAdjust="spacingAndGlyphs" >fl/fl</text>
<text x="471.00" y="576.20" font-size="8.2" text-anchor="middle" fill="#5572a0" stroke="#5572a0" textLength="13.00" lengthAdjust="spacingAndGlyphs" >+/+</text>
<text x="498.50" y="576.20" font-size="8.2" text-anchor="middle" fill="#a43048" stroke="#a43048" textLength="11.60" lengthAdjust="spacingAndGlyphs" >fl/fl</text>
<line x1="408.20" y1="579.60" x2="454.60" y2="579.60" stroke="#2a2a2a" stroke-width="1.0" />
<line x1="460.80" y1="579.60" x2="507.70" y2="579.60" stroke="#2a2a2a" stroke-width="1.0" />
<text x="431.40" y="590.90" font-size="8.2" text-anchor="middle" fill="#231f20" stroke="#231f20" textLength="38.50" lengthAdjust="spacingAndGlyphs" >Gp1ba-Cre</text>
<text x="484.25" y="590.90" font-size="8.2" text-anchor="middle" fill="#231f20" stroke="#231f20" textLength="26.50" lengthAdjust="spacingAndGlyphs" >Pf4-Cre</text>
<line x1="58.70" y1="611.80" x2="58.70" y2="688.20" stroke="#141414" stroke-width="1.25" />
<line x1="55.10" y1="687.60" x2="58.70" y2="687.60" stroke="#231f20" stroke-width="0.9" />
<text x="52.10" y="690.30" font-size="7.6" text-anchor="end" fill="#231f20" stroke="#231f20" textLength="3.93" lengthAdjust="spacingAndGlyphs" >0</text>
<line x1="55.10" y1="669.35" x2="58.70" y2="669.35" stroke="#231f20" stroke-width="0.9" />
<text x="52.10" y="672.05" font-size="7.6" text-anchor="end" fill="#231f20" stroke="#231f20" textLength="3.93" lengthAdjust="spacingAndGlyphs" >1</text>
<line x1="55.10" y1="651.10" x2="58.70" y2="651.10" stroke="#231f20" stroke-width="0.9" />
<text x="52.10" y="653.80" font-size="7.6" text-anchor="end" fill="#231f20" stroke="#231f20" textLength="3.93" lengthAdjust="spacingAndGlyphs" >2</text>
<line x1="55.10" y1="632.85" x2="58.70" y2="632.85" stroke="#231f20" stroke-width="0.9" />
<text x="52.10" y="635.55" font-size="7.6" text-anchor="end" fill="#231f20" stroke="#231f20" textLength="3.93" lengthAdjust="spacingAndGlyphs" >3</text>
<line x1="55.10" y1="614.60" x2="58.70" y2="614.60" stroke="#231f20" stroke-width="0.9" />
<text x="52.10" y="617.30" font-size="7.6" text-anchor="end" fill="#231f20" stroke="#231f20" textLength="3.93" lengthAdjust="spacingAndGlyphs" >4</text>
<rect x="63.10" y="666.98" width="18.5" height="20.62" fill="#4e6180" stroke="#3d5274" stroke-width="0.5"/>
<rect x="90.80" y="662.60" width="18.5" height="25.00" fill="#a23346" stroke="#952236" stroke-width="0.5"/>
<rect x="117.80" y="674.28" width="18.5" height="13.32" fill="#4e6180" stroke="#3d5274" stroke-width="0.5"/>
<rect x="145.50" y="652.74" width="18.5" height="34.86" fill="#a23346" stroke="#952236" stroke-width="0.5"/>
<line x1="72.35" y1="666.98" x2="72.35" y2="657.85" stroke="#231f20" stroke-width="1.0" />
<line x1="67.17" y1="657.85" x2="77.53" y2="657.85" stroke="#231f20" stroke-width="1.0" />
<line x1="100.05" y1="662.60" x2="100.05" y2="656.21" stroke="#231f20" stroke-width="1.0" />
<line x1="94.87" y1="656.21" x2="105.23" y2="656.21" stroke="#231f20" stroke-width="1.0" />
<line x1="127.05" y1="674.28" x2="127.05" y2="670.63" stroke="#231f20" stroke-width="1.0" />
<line x1="121.87" y1="670.63" x2="132.23" y2="670.63" stroke="#231f20" stroke-width="1.0" />
<line x1="154.75" y1="652.74" x2="154.75" y2="635.40" stroke="#231f20" stroke-width="1.0" />
<line x1="149.57" y1="635.40" x2="159.93" y2="635.40" stroke="#231f20" stroke-width="1.0" />
<line x1="58.10" y1="687.60" x2="168.20" y2="687.60" stroke="#141414" stroke-width="1.2" />
<line x1="72.35" y1="687.60" x2="72.35" y2="690.20" stroke="#231f20" stroke-width="0.9" />
<line x1="100.05" y1="687.60" x2="100.05" y2="690.20" stroke="#231f20" stroke-width="0.9" />
<line x1="127.05" y1="687.60" x2="127.05" y2="690.20" stroke="#231f20" stroke-width="0.9" />
<line x1="154.75" y1="687.60" x2="154.75" y2="690.20" stroke="#231f20" stroke-width="0.9" />
<circle cx="72.30" cy="651.20" r="2.75" fill="#fff" stroke="#111" stroke-width="1.1"/>
<circle cx="76.90" cy="659.30" r="2.75" fill="#fff" stroke="#111" stroke-width="1.1"/>
<circle cx="67.70" cy="665.50" r="2.75" fill="#fff" stroke="#111" stroke-width="1.1"/>
<circle cx="73.90" cy="665.50" r="2.75" fill="#fff" stroke="#111" stroke-width="1.1"/>
<circle cx="68.90" cy="672.00" r="2.75" fill="#fff" stroke="#111" stroke-width="1.1"/>
<circle cx="76.20" cy="669.70" r="2.75" fill="#fff" stroke="#111" stroke-width="1.1"/>
<circle cx="73.50" cy="674.30" r="2.75" fill="#fff" stroke="#111" stroke-width="1.1"/>
<circle cx="70.00" cy="677.70" r="2.75" fill="#fff" stroke="#111" stroke-width="1.1"/>
<circle cx="100.00" cy="653.00" r="2.75" fill="#fff" stroke="#111" stroke-width="1.1"/>
<circle cx="104.70" cy="655.30" r="2.75" fill="#fff" stroke="#111" stroke-width="1.1"/>
<circle cx="94.70" cy="660.00" r="2.75" fill="#fff" stroke="#111" stroke-width="1.1"/>
<circle cx="100.00" cy="661.60" r="2.75" fill="#fff" stroke="#111" stroke-width="1.1"/>
<circle cx="96.10" cy="667.40" r="2.75" fill="#fff" stroke="#111" stroke-width="1.1"/>
<circle cx="104.70" cy="666.90" r="2.75" fill="#fff" stroke="#111" stroke-width="1.1"/>
<circle cx="97.70" cy="670.80" r="2.75" fill="#fff" stroke="#111" stroke-width="1.1"/>
<circle cx="102.30" cy="669.70" r="2.75" fill="#fff" stroke="#111" stroke-width="1.1"/>
<circle cx="122.00" cy="670.80" r="2.75" fill="#fff" stroke="#111" stroke-width="1.1"/>
<circle cx="132.40" cy="672.00" r="2.75" fill="#fff" stroke="#111" stroke-width="1.1"/>
<circle cx="125.40" cy="674.30" r="2.75" fill="#fff" stroke="#111" stroke-width="1.1"/>
<circle cx="128.90" cy="676.60" r="2.75" fill="#fff" stroke="#111" stroke-width="1.1"/>
<circle cx="126.60" cy="678.40" r="2.75" fill="#fff" stroke="#111" stroke-width="1.1"/>
<circle cx="154.80" cy="622.30" r="2.75" fill="#fff" stroke="#111" stroke-width="1.1"/>
<circle cx="154.80" cy="637.80" r="2.75" fill="#fff" stroke="#111" stroke-width="1.1"/>
<circle cx="150.20" cy="648.40" r="2.75" fill="#fff" stroke="#111" stroke-width="1.1"/>
<circle cx="158.90" cy="648.40" r="2.75" fill="#fff" stroke="#111" stroke-width="1.1"/>
<circle cx="150.20" cy="657.70" r="2.75" fill="#fff" stroke="#111" stroke-width="1.1"/>
<circle cx="158.50" cy="666.90" r="2.75" fill="#fff" stroke="#111" stroke-width="1.1"/>
<circle cx="162.40" cy="666.20" r="2.75" fill="#fff" stroke="#111" stroke-width="1.1"/>
<circle cx="150.20" cy="674.30" r="2.75" fill="#fff" stroke="#111" stroke-width="1.1"/>
<circle cx="151.80" cy="612.40" r="1.3" fill="#2a2a2a"/>
<circle cx="155.00" cy="612.40" r="1.3" fill="#2a2a2a"/>
<circle cx="158.20" cy="612.40" r="1.3" fill="#2a2a2a"/>
<text transform="translate(41.50,649.70) rotate(-90)" x="0" y="0" font-size="9.2" text-anchor="middle" fill="#231f20" stroke="#231f20" textLength="56.20" lengthAdjust="spacingAndGlyphs">cDCs # (x10<tspan dy="-3.4" font-size="6.4">6</tspan><tspan dy="3.4">)</tspan></text>
<text x="56.00" y="702.70" font-size="8.2" text-anchor="end" fill="#231f20" stroke="#231f20" textLength="20.30" lengthAdjust="spacingAndGlyphs" >Shp1:</text>
<text x="72.35" y="702.70" font-size="8.2" text-anchor="middle" fill="#5572a0" stroke="#5572a0" textLength="13.00" lengthAdjust="spacingAndGlyphs" >+/+</text>
<text x="100.05" y="702.70" font-size="8.2" text-anchor="middle" fill="#a43048" stroke="#a43048" textLength="11.60" lengthAdjust="spacingAndGlyphs" >fl/fl</text>
<text x="127.05" y="702.70" font-size="8.2" text-anchor="middle" fill="#5572a0" stroke="#5572a0" textLength="13.00" lengthAdjust="spacingAndGlyphs" >+/+</text>
<text x="154.75" y="702.70" font-size="8.2" text-anchor="middle" fill="#a43048" stroke="#a43048" textLength="11.60" lengthAdjust="spacingAndGlyphs" >fl/fl</text>
<line x1="64.70" y1="706.10" x2="110.40" y2="706.10" stroke="#2a2a2a" stroke-width="1.0" />
<line x1="116.90" y1="706.10" x2="163.50" y2="706.10" stroke="#2a2a2a" stroke-width="1.0" />
<text x="87.55" y="717.20" font-size="8.2" text-anchor="middle" fill="#231f20" stroke="#231f20" textLength="38.50" lengthAdjust="spacingAndGlyphs" >Gp1ba-Cre</text>
<text x="140.20" y="717.20" font-size="8.2" text-anchor="middle" fill="#231f20" stroke="#231f20" textLength="26.50" lengthAdjust="spacingAndGlyphs" >Pf4-Cre</text>
<line x1="231.20" y1="611.80" x2="231.20" y2="688.00" stroke="#141414" stroke-width="1.25" />
<line x1="227.60" y1="687.40" x2="231.20" y2="687.40" stroke="#231f20" stroke-width="0.9" />
<text x="224.60" y="690.10" font-size="7.6" text-anchor="end" fill="#231f20" stroke="#231f20" textLength="3.93" lengthAdjust="spacingAndGlyphs" >0</text>
<line x1="227.60" y1="669.20" x2="231.20" y2="669.20" stroke="#231f20" stroke-width="0.9" />
<text x="224.60" y="671.90" font-size="7.6" text-anchor="end" fill="#231f20" stroke="#231f20" textLength="11.79" lengthAdjust="spacingAndGlyphs" >200</text>
<line x1="227.60" y1="651.00" x2="231.20" y2="651.00" stroke="#231f20" stroke-width="0.9" />
<text x="224.60" y="653.70" font-size="7.6" text-anchor="end" fill="#231f20" stroke="#231f20" textLength="11.79" lengthAdjust="spacingAndGlyphs" >400</text>
<line x1="227.60" y1="632.80" x2="231.20" y2="632.80" stroke="#231f20" stroke-width="0.9" />
<text x="224.60" y="635.50" font-size="7.6" text-anchor="end" fill="#231f20" stroke="#231f20" textLength="11.79" lengthAdjust="spacingAndGlyphs" >600</text>
<line x1="227.60" y1="614.60" x2="231.20" y2="614.60" stroke="#231f20" stroke-width="0.9" />
<text x="224.60" y="617.30" font-size="7.6" text-anchor="end" fill="#231f20" stroke="#231f20" textLength="11.79" lengthAdjust="spacingAndGlyphs" >800</text>
<rect x="235.45" y="670.47" width="18.5" height="16.93" fill="#4e6180" stroke="#3d5274" stroke-width="0.5"/>
<rect x="262.95" y="665.92" width="18.5" height="21.48" fill="#a23346" stroke="#952236" stroke-width="0.5"/>
<rect x="290.35" y="675.84" width="18.5" height="11.56" fill="#4e6180" stroke="#3d5274" stroke-width="0.5"/>
<rect x="317.85" y="639.99" width="18.5" height="47.41" fill="#a23346" stroke="#952236" stroke-width="0.5"/>
<line x1="244.70" y1="670.47" x2="244.70" y2="669.11" stroke="#231f20" stroke-width="1.0" />
<line x1="239.52" y1="669.11" x2="249.88" y2="669.11" stroke="#231f20" stroke-width="1.0" />
<line x1="272.20" y1="665.92" x2="272.20" y2="664.10" stroke="#231f20" stroke-width="1.0" />
<line x1="267.02" y1="664.10" x2="277.38" y2="664.10" stroke="#231f20" stroke-width="1.0" />
<line x1="299.60" y1="675.84" x2="299.60" y2="665.38" stroke="#231f20" stroke-width="1.0" />
<line x1="294.42" y1="665.38" x2="304.78" y2="665.38" stroke="#231f20" stroke-width="1.0" />
<line x1="327.10" y1="639.99" x2="327.10" y2="631.34" stroke="#231f20" stroke-width="1.0" />
<line x1="321.92" y1="631.34" x2="332.28" y2="631.34" stroke="#231f20" stroke-width="1.0" />
<line x1="230.60" y1="687.40" x2="340.50" y2="687.40" stroke="#141414" stroke-width="1.2" />
<line x1="244.70" y1="687.40" x2="244.70" y2="690.00" stroke="#231f20" stroke-width="0.9" />
<line x1="272.20" y1="687.40" x2="272.20" y2="690.00" stroke="#231f20" stroke-width="0.9" />
<line x1="299.60" y1="687.40" x2="299.60" y2="690.00" stroke="#231f20" stroke-width="0.9" />
<line x1="327.10" y1="687.40" x2="327.10" y2="690.00" stroke="#231f20" stroke-width="0.9" />
<circle cx="240.00" cy="670.00" r="2.75" fill="#fff" stroke="#111" stroke-width="1.1"/>
<circle cx="243.60" cy="671.70" r="2.75" fill="#fff" stroke="#111" stroke-width="1.1"/>
<circle cx="247.90" cy="669.60" r="2.75" fill="#fff" stroke="#111" stroke-width="1.1"/>
<circle cx="250.60" cy="667.90" r="2.75" fill="#fff" stroke="#111" stroke-width="1.1"/>
<circle cx="245.80" cy="673.20" r="2.75" fill="#fff" stroke="#111" stroke-width="1.1"/>
<circle cx="238.60" cy="668.40" r="2.75" fill="#fff" stroke="#111" stroke-width="1.1"/>
<circle cx="246.00" cy="668.00" r="2.75" fill="#fff" stroke="#111" stroke-width="1.1"/>
<circle cx="267.50" cy="661.50" r="2.75" fill="#fff" stroke="#111" stroke-width="1.1"/>
<circle cx="271.10" cy="664.10" r="2.75" fill="#fff" stroke="#111" stroke-width="1.1"/>
<circle cx="276.80" cy="661.10" r="2.75" fill="#fff" stroke="#111" stroke-width="1.1"/>
<circle cx="278.10" cy="663.20" r="2.75" fill="#fff" stroke="#111" stroke-width="1.1"/>
<circle cx="265.80" cy="664.10" r="2.75" fill="#fff" stroke="#111" stroke-width="1.1"/>
<circle cx="273.30" cy="667.90" r="2.75" fill="#fff" stroke="#111" stroke-width="1.1"/>
<circle cx="268.50" cy="666.50" r="2.75" fill="#fff" stroke="#111" stroke-width="1.1"/>
<circle cx="299.30" cy="659.00" r="2.75" fill="#fff" stroke="#111" stroke-width="1.1"/>
<circle cx="295.00" cy="665.30" r="2.75" fill="#fff" stroke="#111" stroke-width="1.1"/>
<circle cx="303.90" cy="668.90" r="2.75" fill="#fff" stroke="#111" stroke-width="1.1"/>
<circle cx="295.50" cy="681.20" r="2.75" fill="#fff" stroke="#111" stroke-width="1.1"/>
<circle cx="303.90" cy="680.20" r="2.75" fill="#fff" stroke="#111" stroke-width="1.1"/>
<circle cx="297.60" cy="687.30" r="2.75" fill="#fff" stroke="#111" stroke-width="1.1"/>
<circle cx="323.00" cy="624.50" r="2.75" fill="#fff" stroke="#111" stroke-width="1.1"/>
<circle cx="331.40" cy="628.80" r="2.75" fill="#fff" stroke="#111" stroke-width="1.1"/>
<circle cx="321.90" cy="632.00" r="2.75" fill="#fff" stroke="#111" stroke-width="1.1"/>
<circle cx="326.60" cy="631.00" r="2.75" fill="#fff" stroke="#111" stroke-width="1.1"/>
<circle cx="326.10" cy="637.20" r="2.75" fill="#fff" stroke="#111" stroke-width="1.1"/>
<circle cx="332.50" cy="637.20" r="2.75" fill="#fff" stroke="#111" stroke-width="1.1"/>
<circle cx="327.20" cy="647.80" r="2.75" fill="#fff" stroke="#111" stroke-width="1.1"/>
<circle cx="331.40" cy="651.40" r="2.75" fill="#fff" stroke="#111" stroke-width="1.1"/>
<circle cx="323.00" cy="657.30" r="2.75" fill="#fff" stroke="#111" stroke-width="1.1"/>
<circle cx="322.80" cy="613.90" r="1.3" fill="#2a2a2a"/>
<circle cx="326.00" cy="613.90" r="1.3" fill="#2a2a2a"/>
<circle cx="329.20" cy="613.90" r="1.3" fill="#2a2a2a"/>
<text transform="translate(204.30,650.00) rotate(-90)" x="0" y="0" font-size="9.2" text-anchor="middle" fill="#231f20" stroke="#231f20" textLength="61.20" lengthAdjust="spacingAndGlyphs">cDC CD86 MFI</text>
<text x="228.40" y="702.70" font-size="8.2" text-anchor="end" fill="#231f20" stroke="#231f20" textLength="20.30" lengthAdjust="spacingAndGlyphs" >Shp1:</text>
<text x="244.70" y="702.70" font-size="8.2" text-anchor="middle" fill="#5572a0" stroke="#5572a0" textLength="13.00" lengthAdjust="spacingAndGlyphs" >+/+</text>
<text x="272.20" y="702.70" font-size="8.2" text-anchor="middle" fill="#a43048" stroke="#a43048" textLength="11.60" lengthAdjust="spacingAndGlyphs" >fl/fl</text>
<text x="299.60" y="702.70" font-size="8.2" text-anchor="middle" fill="#5572a0" stroke="#5572a0" textLength="13.00" lengthAdjust="spacingAndGlyphs" >+/+</text>
<text x="327.10" y="702.70" font-size="8.2" text-anchor="middle" fill="#a43048" stroke="#a43048" textLength="11.60" lengthAdjust="spacingAndGlyphs" >fl/fl</text>
<line x1="236.50" y1="706.10" x2="282.70" y2="706.10" stroke="#2a2a2a" stroke-width="1.0" />
<line x1="289.20" y1="706.10" x2="335.90" y2="706.10" stroke="#2a2a2a" stroke-width="1.0" />
<text x="259.60" y="717.20" font-size="8.2" text-anchor="middle" fill="#231f20" stroke="#231f20" textLength="38.50" lengthAdjust="spacingAndGlyphs" >Gp1ba-Cre</text>
<text x="312.55" y="717.20" font-size="8.2" text-anchor="middle" fill="#231f20" stroke="#231f20" textLength="26.50" lengthAdjust="spacingAndGlyphs" >Pf4-Cre</text>
<rect x="0" y="0" width="520" height="1" fill="#000"/>
<rect x="0" y="725" width="520" height="1" fill="#000"/>
<rect x="0" y="0" width="2" height="726" fill="#555"/>
<rect x="518.2" y="0" width="1.8" height="726" fill="#555"/>
</svg></body></html>
